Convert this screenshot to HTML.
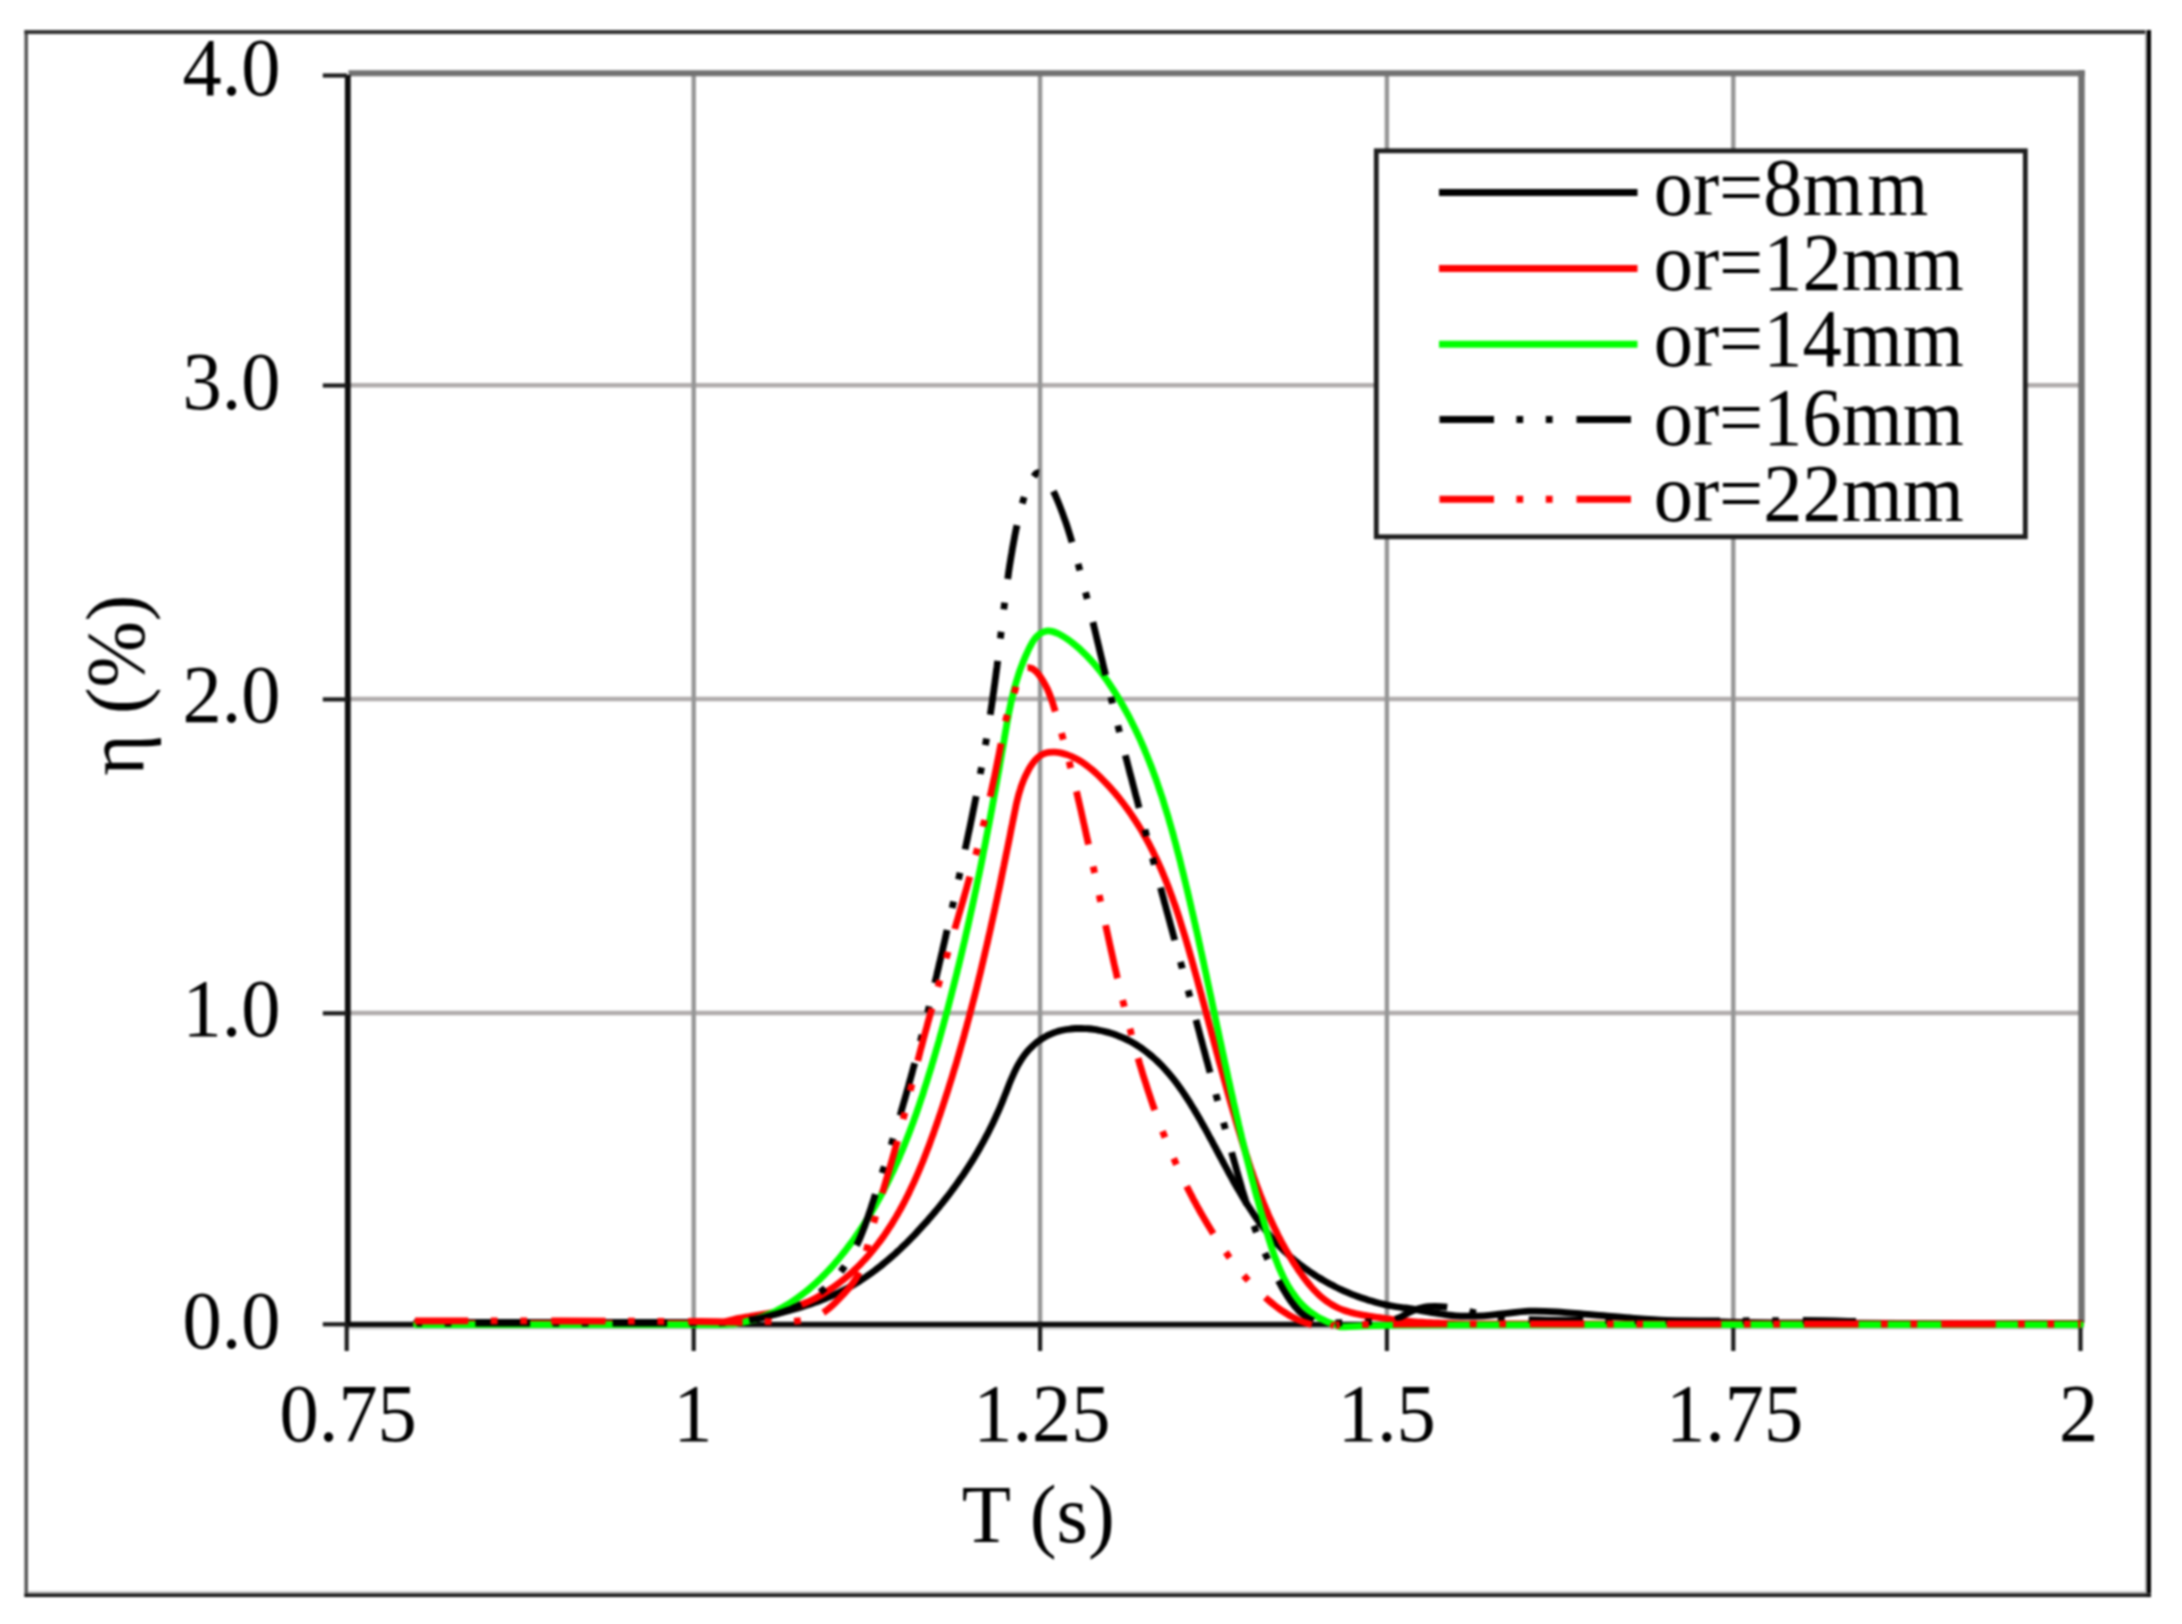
<!DOCTYPE html>
<html lang="en"><head><meta charset="utf-8"><title>Efficiency vs period</title>
<style>html,body{margin:0;padding:0;background:#fff}body{width:2182px;height:1624px;overflow:hidden}svg{display:block;filter:blur(0.9px)}text{font-family:'Liberation Serif','Times New Roman',serif;fill:#000}</style></head><body>
<svg xmlns="http://www.w3.org/2000/svg" width="2182" height="1624" viewBox="0 0 2182 1624">
<rect width="2182" height="1624" fill="#fff"/>
<g id="frame">
<rect x="24.45" y="30.05" width="3.5" height="1566.8" fill="#555"/>
<rect x="24.45" y="30.05" width="2126.55" height="4.0" fill="#333"/>
<rect x="2145.1" y="30.05" width="1.9" height="1566.8" fill="#a0a0a0"/>
<rect x="2147" y="30.05" width="4.0" height="1566.8" fill="#000"/>
<rect x="27.9" y="1590.9" width="2117.5" height="2.1" fill="#d0d0d0"/>
<rect x="24.45" y="1593" width="2126.55" height="1.8" fill="#474747"/>
<rect x="24.45" y="1594.7" width="2126.55" height="2.2" fill="#000"/>
</g>
<g id="grid" fill="none">
<line x1="347.5" x2="2082.5" y1="1013.0" y2="1013.0" stroke="#b0acac" stroke-width="4.4"/>
<line x1="347.5" x2="2082.5" y1="699.0" y2="699.0" stroke="#b0acac" stroke-width="4.4"/>
<line x1="347.5" x2="2082.5" y1="385.3" y2="385.3" stroke="#b0acac" stroke-width="4.4"/>
<line x1="693.7" x2="693.7" y1="73.0" y2="1324.4" stroke="#969696" stroke-width="4.4"/>
<line x1="1040.1" x2="1040.1" y1="73.0" y2="1324.4" stroke="#969696" stroke-width="4.4"/>
<line x1="1386.9" x2="1386.9" y1="73.0" y2="1324.4" stroke="#969696" stroke-width="4.4"/>
<line x1="1733.3" x2="1733.3" y1="73.0" y2="1324.4" stroke="#969696" stroke-width="4.4"/>
<line x1="347.5" x2="2083.5" y1="1327.4" y2="1327.4" stroke="#c4c4c4" stroke-width="4"/>
<line x1="348.5" x2="2084.7" y1="73.25" y2="73.25" stroke="#727272" stroke-width="6.2"/>
<line x1="2081.5" x2="2081.5" y1="70.2" y2="1322.4" stroke="#707070" stroke-width="6.4"/>
</g>
<g id="axes" stroke="#0c0c0c" fill="none">
<line x1="347.8" x2="347.8" y1="75" y2="1327.1" stroke-width="5.8"/>
<line x1="345" x2="2083.5" y1="1324.4" y2="1324.4" stroke-width="5.4"/>
<line x1="322.8" x2="347" y1="1324.3" y2="1324.3" stroke-width="4.2" stroke="#1c1c1c"/>
<line x1="322.8" x2="347" y1="1013.3" y2="1013.3" stroke-width="4.2" stroke="#1c1c1c"/>
<line x1="322.8" x2="347" y1="699.4" y2="699.4" stroke-width="4.2" stroke="#1c1c1c"/>
<line x1="322.8" x2="347" y1="385.5" y2="385.5" stroke-width="4.2" stroke="#1c1c1c"/>
<line x1="322.8" x2="347" y1="75.5" y2="75.5" stroke-width="4.2" stroke="#1c1c1c"/>
<line x1="346.7" x2="346.7" y1="1324.4" y2="1351" stroke-width="4.2" stroke="#1c1c1c"/>
<line x1="693.7" x2="693.7" y1="1324.4" y2="1351" stroke-width="4.2" stroke="#1c1c1c"/>
<line x1="1040.1" x2="1040.1" y1="1324.4" y2="1351" stroke-width="4.2" stroke="#1c1c1c"/>
<line x1="1386.9" x2="1386.9" y1="1324.4" y2="1351" stroke-width="4.2" stroke="#1c1c1c"/>
<line x1="1733.3" x2="1733.3" y1="1324.4" y2="1351" stroke-width="4.2" stroke="#1c1c1c"/>
<line x1="2080.5" x2="2080.5" y1="1324.4" y2="1351" stroke-width="4.2" stroke="#1c1c1c"/>
</g>
<g id="series" fill="none" stroke-linejoin="round" stroke-width="6.8">
<path stroke="#000" stroke-linecap="round" d="M416.5 1322.5C440.4 1322.5 512.8 1322.5 560.0 1322.5C607.2 1322.5 670.8 1322.5 700.0 1322.5C729.2 1322.5 728.2 1322.5 735.0 1322.3C741.8 1322.1 739.0 1321.5 741.0 1321.2C743.0 1320.8 745.0 1320.4 746.9 1320.0C748.9 1319.6 750.9 1319.2 752.9 1318.8C754.9 1318.4 756.9 1318.0 758.9 1317.6C760.8 1317.2 762.8 1316.7 764.8 1316.3C766.8 1315.9 768.8 1315.4 770.7 1315.0C772.7 1314.5 774.7 1314.1 776.6 1313.6C778.6 1313.2 780.6 1312.7 782.5 1312.2C784.5 1311.7 786.4 1311.2 788.4 1310.7C790.3 1310.2 792.2 1309.6 794.2 1309.1C796.1 1308.5 798.0 1308.0 800.0 1307.4C801.9 1306.8 803.8 1306.2 805.7 1305.6C807.6 1305.0 809.5 1304.4 811.4 1303.7C813.3 1303.1 815.1 1302.4 817.0 1301.7C818.9 1301.0 820.8 1300.3 822.6 1299.6C824.5 1298.9 826.3 1298.1 828.1 1297.4C830.0 1296.6 831.8 1295.8 833.6 1295.0C835.4 1294.2 837.2 1293.3 839.0 1292.5C840.8 1291.6 842.6 1290.7 844.4 1289.8C846.1 1288.9 847.9 1287.9 849.6 1287.0C851.4 1286.0 853.1 1285.0 854.8 1284.0C856.6 1282.9 858.3 1281.9 860.0 1280.8C861.6 1279.7 863.3 1278.6 865.0 1277.5C866.7 1276.4 868.3 1275.2 870.0 1274.0C871.6 1272.9 873.2 1271.7 874.9 1270.5C876.5 1269.2 878.1 1268.0 879.7 1266.8C881.3 1265.5 882.9 1264.2 884.4 1262.9C886.0 1261.6 887.6 1260.3 889.1 1259.0C890.7 1257.7 892.2 1256.3 893.7 1255.0C895.2 1253.6 896.8 1252.2 898.3 1250.8C899.8 1249.5 901.2 1248.0 902.7 1246.6C904.2 1245.2 905.6 1243.8 907.1 1242.4C908.6 1240.9 910.0 1239.5 911.4 1238.0C912.8 1236.5 914.3 1235.1 915.7 1233.6C917.1 1232.1 918.5 1230.6 919.8 1229.1C921.2 1227.6 922.6 1226.1 923.9 1224.6C925.3 1223.1 926.6 1221.6 928.0 1220.1C929.3 1218.6 930.6 1217.0 931.9 1215.5C933.3 1214.0 934.6 1212.5 935.8 1210.9C937.1 1209.4 938.4 1207.8 939.7 1206.3C940.9 1204.7 942.2 1203.2 943.4 1201.6C944.7 1200.1 945.9 1198.5 947.1 1196.9C948.3 1195.3 949.5 1193.8 950.7 1192.2C951.9 1190.6 953.1 1189.0 954.3 1187.4C955.4 1185.8 956.6 1184.2 957.7 1182.6C958.9 1181.0 960.0 1179.4 961.1 1177.7C962.3 1176.1 963.4 1174.5 964.5 1172.8C965.6 1171.2 966.7 1169.5 967.7 1167.9C968.8 1166.2 969.9 1164.5 970.9 1162.9C972.0 1161.2 973.0 1159.5 974.1 1157.8C975.1 1156.1 976.1 1154.4 977.1 1152.7C978.1 1151.0 979.1 1149.3 980.1 1147.5C981.1 1145.8 982.0 1144.0 983.0 1142.3C984.0 1140.5 984.9 1138.8 985.8 1137.0C986.8 1135.2 987.7 1133.5 988.6 1131.7C989.5 1129.9 990.4 1128.1 991.3 1126.3C992.2 1124.5 993.1 1122.6 993.9 1120.8C994.8 1119.0 995.6 1117.1 996.5 1115.3C997.3 1113.4 998.1 1111.5 999.0 1109.7C999.8 1107.8 1000.6 1105.9 1001.4 1104.0C1002.2 1102.1 1002.9 1100.2 1003.7 1098.2C1004.5 1096.3 1005.2 1094.4 1006.0 1092.4C1006.8 1090.5 1007.5 1088.5 1008.3 1086.6C1009.0 1084.7 1009.8 1082.7 1010.6 1080.8C1011.4 1078.9 1012.2 1077.0 1013.1 1075.1C1013.9 1073.3 1014.8 1071.4 1015.7 1069.6C1016.6 1067.8 1017.5 1066.0 1018.5 1064.2C1019.5 1062.5 1020.5 1060.8 1021.6 1059.1C1022.7 1057.5 1023.8 1055.9 1025.0 1054.3C1026.2 1052.8 1027.5 1051.3 1028.8 1049.8C1030.1 1048.4 1031.5 1047.0 1032.9 1045.7C1034.3 1044.4 1035.8 1043.1 1037.3 1041.9C1038.9 1040.8 1040.4 1039.7 1042.1 1038.6C1043.7 1037.6 1045.4 1036.6 1047.1 1035.7C1048.8 1034.9 1050.5 1034.1 1052.3 1033.4C1054.1 1032.6 1056.0 1032.0 1057.8 1031.4C1059.7 1030.9 1061.6 1030.4 1063.6 1030.0C1065.5 1029.6 1067.5 1029.3 1069.4 1029.1C1071.4 1028.8 1073.4 1028.6 1075.4 1028.5C1077.5 1028.4 1079.5 1028.4 1081.5 1028.4C1083.6 1028.5 1085.6 1028.6 1087.7 1028.7C1089.7 1028.9 1091.8 1029.1 1093.8 1029.4C1095.9 1029.7 1097.9 1030.1 1100.0 1030.5C1102.0 1030.9 1104.0 1031.4 1106.0 1031.9C1108.1 1032.4 1110.0 1033.0 1112.0 1033.6C1114.0 1034.2 1115.9 1034.9 1117.8 1035.7C1119.8 1036.4 1121.6 1037.2 1123.5 1038.0C1125.3 1038.8 1127.1 1039.7 1128.9 1040.6C1130.7 1041.6 1132.4 1042.5 1134.2 1043.5C1135.9 1044.5 1137.6 1045.6 1139.2 1046.7C1140.9 1047.8 1142.5 1048.9 1144.1 1050.1C1145.6 1051.2 1147.2 1052.4 1148.7 1053.7C1150.3 1054.9 1151.8 1056.2 1153.2 1057.5C1154.7 1058.8 1156.2 1060.1 1157.6 1061.5C1159.0 1062.9 1160.4 1064.3 1161.8 1065.7C1163.2 1067.1 1164.5 1068.6 1165.8 1070.1C1167.2 1071.5 1168.5 1073.0 1169.8 1074.6C1171.0 1076.1 1172.3 1077.7 1173.5 1079.2C1174.8 1080.8 1176.0 1082.4 1177.2 1084.0C1178.4 1085.7 1179.6 1087.3 1180.8 1089.0C1181.9 1090.6 1183.1 1092.3 1184.2 1094.0C1185.4 1095.7 1186.5 1097.4 1187.6 1099.1C1188.7 1100.8 1189.8 1102.5 1190.9 1104.3C1192.0 1106.0 1193.0 1107.8 1194.1 1109.5C1195.1 1111.3 1196.2 1113.0 1197.2 1114.8C1198.3 1116.6 1199.3 1118.4 1200.3 1120.1C1201.3 1121.9 1202.3 1123.7 1203.3 1125.5C1204.3 1127.3 1205.3 1129.1 1206.3 1130.9C1207.3 1132.7 1208.3 1134.5 1209.2 1136.3C1210.2 1138.1 1211.2 1139.9 1212.2 1141.7C1213.1 1143.5 1214.1 1145.3 1215.1 1147.1C1216.0 1148.9 1217.0 1150.7 1217.9 1152.5C1218.9 1154.3 1219.9 1156.1 1220.8 1157.9C1221.8 1159.7 1222.7 1161.5 1223.7 1163.3C1224.7 1165.1 1225.6 1166.9 1226.6 1168.7C1227.6 1170.5 1228.5 1172.3 1229.5 1174.1C1230.5 1175.8 1231.5 1177.6 1232.5 1179.4C1233.4 1181.2 1234.4 1182.9 1235.4 1184.7C1236.4 1186.4 1237.4 1188.2 1238.4 1189.9C1239.5 1191.7 1240.5 1193.4 1241.5 1195.1C1242.5 1196.8 1243.6 1198.6 1244.6 1200.3C1245.7 1202.0 1246.8 1203.7 1247.8 1205.4C1248.9 1207.0 1250.0 1208.7 1251.1 1210.4C1252.2 1212.0 1253.3 1213.7 1254.4 1215.3C1255.6 1217.0 1256.7 1218.6 1257.9 1220.2C1259.0 1221.8 1260.2 1223.4 1261.4 1225.0C1262.6 1226.6 1263.8 1228.2 1265.0 1229.7C1266.3 1231.3 1267.5 1232.8 1268.8 1234.3C1270.0 1235.9 1271.3 1237.4 1272.6 1238.8C1274.0 1240.3 1275.3 1241.8 1276.6 1243.3C1278.0 1244.7 1279.4 1246.1 1280.8 1247.6C1282.2 1249.0 1283.6 1250.4 1285.0 1251.8C1286.5 1253.1 1288.0 1254.5 1289.5 1255.8C1290.9 1257.2 1292.5 1258.5 1294.0 1259.8C1295.5 1261.1 1297.1 1262.3 1298.7 1263.6C1300.3 1264.8 1301.9 1266.1 1303.5 1267.3C1305.1 1268.5 1306.8 1269.6 1308.4 1270.8C1310.1 1272.0 1311.8 1273.1 1313.5 1274.2C1315.2 1275.3 1316.9 1276.4 1318.6 1277.5C1320.4 1278.6 1322.1 1279.6 1323.9 1280.6C1325.6 1281.7 1327.4 1282.7 1329.2 1283.6C1331.0 1284.6 1332.8 1285.5 1334.6 1286.5C1336.5 1287.4 1338.3 1288.3 1340.1 1289.2C1342.0 1290.0 1343.9 1290.9 1345.7 1291.7C1347.6 1292.5 1349.5 1293.3 1351.4 1294.1C1353.3 1294.8 1355.2 1295.6 1357.1 1296.3C1359.0 1297.0 1360.9 1297.7 1362.8 1298.3C1364.8 1299.0 1366.7 1299.6 1368.6 1300.2C1370.6 1300.8 1372.5 1301.4 1374.5 1301.9C1376.4 1302.5 1378.4 1303.0 1380.3 1303.5C1382.3 1304.0 1384.3 1304.4 1386.2 1304.9C1388.2 1305.3 1390.2 1305.7 1392.2 1306.0C1394.1 1306.4 1396.1 1306.7 1398.1 1307.0C1400.1 1307.4 1402.1 1307.6 1404.1 1307.9C1406.0 1308.1 1406.0 1307.8 1410.0 1308.5C1414.0 1309.2 1420.7 1310.6 1428.3 1311.8C1435.9 1313.0 1446.6 1315.1 1455.8 1315.8C1465.0 1316.5 1475.6 1316.1 1483.3 1315.8C1491.0 1315.5 1494.1 1314.8 1501.7 1314.0C1509.3 1313.2 1519.9 1311.6 1529.1 1311.2C1538.2 1310.8 1545.9 1311.2 1556.6 1311.8C1567.3 1312.4 1581.1 1313.9 1593.3 1314.9C1605.5 1315.9 1617.8 1317.1 1630.0 1318.0C1642.2 1318.9 1654.9 1319.9 1666.6 1320.4C1678.3 1321.0 1687.8 1321.0 1700.0 1321.3C1712.2 1321.6 1723.3 1322.2 1740.0 1322.5C1756.7 1322.8 1773.3 1322.8 1800.0 1323.0C1826.7 1323.2 1853.2 1323.4 1900.0 1323.5C1946.8 1323.6 2050.4 1323.5 2080.5 1323.5"/>
<path stroke="#f00" stroke-linecap="round" d="M416.5 1323.5C440.4 1323.5 514.4 1323.5 560.0 1323.5C605.6 1323.5 663.3 1323.5 690.0 1323.5C716.7 1323.5 714.1 1323.5 720.0 1323.2C725.9 1322.9 723.8 1322.0 725.7 1321.5C727.6 1321.0 729.5 1320.5 731.5 1320.0C733.4 1319.6 735.4 1319.1 737.3 1318.7C739.3 1318.3 741.3 1318.0 743.3 1317.6C745.3 1317.2 747.3 1316.9 749.3 1316.6C751.3 1316.2 753.3 1315.9 755.3 1315.6C757.3 1315.3 759.3 1314.9 761.3 1314.6C763.3 1314.3 765.3 1313.9 767.3 1313.6C769.3 1313.2 771.3 1312.9 773.3 1312.5C775.3 1312.1 777.3 1311.7 779.3 1311.3C781.3 1310.8 783.2 1310.4 785.2 1309.9C787.2 1309.4 789.1 1308.8 791.0 1308.3C793.0 1307.7 794.9 1307.0 796.8 1306.4C798.7 1305.7 800.5 1305.0 802.4 1304.2C804.3 1303.5 806.1 1302.7 807.9 1301.9C809.8 1301.0 811.6 1300.2 813.4 1299.3C815.2 1298.4 816.9 1297.4 818.7 1296.4C820.5 1295.5 822.2 1294.5 823.9 1293.4C825.6 1292.4 827.3 1291.3 829.0 1290.2C830.7 1289.1 832.3 1288.0 834.0 1286.8C835.6 1285.7 837.2 1284.5 838.8 1283.3C840.4 1282.1 842.0 1280.8 843.5 1279.6C845.1 1278.3 846.6 1277.0 848.1 1275.7C849.6 1274.4 851.1 1273.1 852.6 1271.7C854.1 1270.4 855.5 1269.0 856.9 1267.7C858.3 1266.3 859.7 1264.9 861.1 1263.5C862.5 1262.0 863.8 1260.6 865.2 1259.1C866.5 1257.7 867.8 1256.2 869.1 1254.7C870.4 1253.2 871.7 1251.7 872.9 1250.2C874.2 1248.7 875.4 1247.1 876.6 1245.6C877.8 1244.0 879.0 1242.5 880.2 1240.9C881.4 1239.3 882.5 1237.7 883.7 1236.1C884.8 1234.5 885.9 1232.8 887.0 1231.2C888.1 1229.6 889.2 1227.9 890.3 1226.2C891.4 1224.6 892.4 1222.9 893.4 1221.2C894.5 1219.5 895.5 1217.8 896.5 1216.1C897.5 1214.4 898.5 1212.6 899.5 1210.9C900.5 1209.1 901.4 1207.4 902.4 1205.6C903.3 1203.9 904.2 1202.1 905.2 1200.3C906.1 1198.5 907.0 1196.8 907.9 1195.0C908.8 1193.2 909.6 1191.3 910.5 1189.5C911.4 1187.7 912.2 1185.9 913.1 1184.1C913.9 1182.2 914.8 1180.4 915.6 1178.5C916.4 1176.7 917.2 1174.8 918.0 1173.0C918.8 1171.1 919.6 1169.2 920.4 1167.4C921.1 1165.5 921.9 1163.6 922.7 1161.7C923.4 1159.9 924.2 1158.0 924.9 1156.1C925.7 1154.2 926.4 1152.3 927.1 1150.4C927.9 1148.5 928.6 1146.6 929.3 1144.7C930.0 1142.8 930.7 1140.9 931.4 1138.9C932.1 1137.0 932.8 1135.1 933.5 1133.2C934.2 1131.3 934.8 1129.4 935.5 1127.4C936.2 1125.5 936.8 1123.6 937.5 1121.7C938.2 1119.8 938.8 1117.8 939.5 1115.9C940.1 1114.0 940.8 1112.1 941.4 1110.2C942.1 1108.2 942.7 1106.3 943.3 1104.4C944.0 1102.5 944.6 1100.5 945.2 1098.6C945.8 1096.7 946.5 1094.8 947.1 1092.8C947.7 1090.9 948.3 1089.0 948.9 1087.1C949.5 1085.1 950.1 1083.2 950.7 1081.3C951.3 1079.4 951.9 1077.4 952.5 1075.5C953.1 1073.6 953.7 1071.6 954.2 1069.7C954.8 1067.8 955.4 1065.9 956.0 1063.9C956.6 1062.0 957.1 1060.1 957.7 1058.1C958.3 1056.2 958.8 1054.3 959.4 1052.3C959.9 1050.4 960.5 1048.5 961.0 1046.5C961.6 1044.6 962.1 1042.7 962.7 1040.7C963.2 1038.8 963.7 1036.9 964.3 1034.9C964.8 1033.0 965.3 1031.1 965.9 1029.1C966.4 1027.2 966.9 1025.3 967.4 1023.3C968.0 1021.4 968.5 1019.5 969.0 1017.5C969.5 1015.6 970.0 1013.6 970.5 1011.7C971.0 1009.8 971.5 1007.8 972.0 1005.9C972.5 1004.0 973.0 1002.0 973.5 1000.1C974.0 998.1 974.5 996.2 975.0 994.3C975.5 992.3 976.0 990.4 976.5 988.4C977.0 986.5 977.4 984.5 977.9 982.6C978.4 980.7 978.9 978.7 979.3 976.8C979.8 974.8 980.3 972.9 980.8 970.9C981.2 969.0 981.7 967.1 982.1 965.1C982.6 963.2 983.1 961.2 983.5 959.3C984.0 957.3 984.4 955.4 984.9 953.4C985.3 951.5 985.8 949.6 986.2 947.6C986.7 945.7 987.1 943.7 987.6 941.8C988.0 939.8 988.4 937.9 988.9 935.9C989.3 934.0 989.8 932.0 990.2 930.1C990.6 928.1 991.1 926.2 991.5 924.2C991.9 922.3 992.4 920.3 992.8 918.4C993.2 916.4 993.6 914.5 994.1 912.5C994.5 910.6 994.9 908.6 995.3 906.6C995.7 904.7 996.2 902.7 996.6 900.8C997.0 898.8 997.4 896.9 997.8 894.9C998.2 893.0 998.6 891.0 999.1 889.1C999.5 887.1 999.9 885.1 1000.3 883.2C1000.7 881.2 1001.1 879.3 1001.5 877.3C1001.9 875.4 1002.3 873.4 1002.7 871.4C1003.1 869.5 1003.5 867.5 1003.9 865.6C1004.3 863.6 1004.7 861.6 1005.1 859.7C1005.5 857.7 1005.9 855.8 1006.3 853.8C1006.7 851.8 1007.1 849.9 1007.5 847.9C1007.9 846.0 1008.3 844.0 1008.7 842.0C1009.1 840.1 1009.5 838.1 1009.9 836.1C1010.3 834.2 1010.6 832.2 1011.0 830.3C1011.4 828.3 1011.8 826.3 1012.2 824.4C1012.6 822.4 1013.0 820.4 1013.4 818.5C1013.8 816.5 1014.2 814.5 1014.6 812.6C1015.0 810.6 1015.4 808.6 1015.8 806.7C1016.2 804.7 1016.6 802.7 1017.1 800.8C1017.6 798.8 1018.1 796.9 1018.6 794.9C1019.2 793.0 1019.7 791.0 1020.4 789.1C1021.0 787.1 1021.6 785.2 1022.4 783.3C1023.1 781.3 1023.9 779.4 1024.7 777.5C1025.6 775.6 1026.5 773.7 1027.5 771.8C1028.5 769.9 1029.5 768.0 1030.7 766.2C1031.8 764.4 1033.1 762.7 1034.4 761.1C1035.7 759.6 1037.1 758.1 1038.6 756.9C1040.1 755.7 1041.7 754.6 1043.5 753.9C1045.2 753.1 1047.0 752.7 1048.9 752.4C1050.7 752.1 1052.7 752.0 1054.6 752.1C1056.6 752.2 1058.6 752.5 1060.5 752.9C1062.5 753.3 1064.4 753.8 1066.3 754.4C1068.2 755.1 1070.0 755.8 1071.9 756.6C1073.7 757.4 1075.5 758.3 1077.2 759.3C1079.0 760.2 1080.7 761.3 1082.4 762.4C1084.1 763.5 1085.8 764.7 1087.4 766.0C1089.1 767.2 1090.7 768.5 1092.3 769.9C1093.8 771.2 1095.4 772.6 1096.9 774.0C1098.5 775.4 1100.0 776.9 1101.4 778.4C1102.9 779.8 1104.4 781.3 1105.8 782.9C1107.2 784.4 1108.6 785.9 1110.0 787.4C1111.4 788.9 1112.7 790.5 1114.1 792.0C1115.4 793.6 1116.7 795.2 1118.0 796.7C1119.3 798.3 1120.5 799.9 1121.8 801.5C1123.0 803.1 1124.2 804.7 1125.4 806.3C1126.7 807.9 1127.8 809.6 1129.0 811.2C1130.1 812.8 1131.3 814.5 1132.4 816.2C1133.5 817.8 1134.6 819.5 1135.7 821.2C1136.8 822.8 1137.9 824.5 1138.9 826.2C1139.9 827.9 1141.0 829.6 1142.0 831.3C1143.0 833.1 1144.0 834.8 1144.9 836.5C1145.9 838.2 1146.9 840.0 1147.8 841.7C1148.8 843.5 1149.7 845.2 1150.6 847.0C1151.5 848.8 1152.4 850.5 1153.3 852.3C1154.1 854.1 1155.0 855.9 1155.9 857.7C1156.7 859.5 1157.5 861.3 1158.4 863.1C1159.2 864.9 1160.0 866.7 1160.8 868.5C1161.6 870.3 1162.4 872.2 1163.1 874.0C1163.9 875.8 1164.6 877.7 1165.4 879.5C1166.1 881.3 1166.9 883.2 1167.6 885.0C1168.3 886.9 1169.0 888.8 1169.7 890.6C1170.4 892.5 1171.1 894.4 1171.8 896.2C1172.5 898.1 1173.1 900.0 1173.8 901.9C1174.5 903.8 1175.1 905.6 1175.8 907.5C1176.4 909.4 1177.0 911.3 1177.7 913.2C1178.3 915.1 1178.9 917.0 1179.5 918.9C1180.1 920.8 1180.7 922.7 1181.3 924.7C1181.9 926.6 1182.5 928.5 1183.1 930.4C1183.7 932.3 1184.3 934.2 1184.9 936.2C1185.4 938.1 1186.0 940.0 1186.6 941.9C1187.1 943.9 1187.7 945.8 1188.3 947.7C1188.8 949.7 1189.4 951.6 1189.9 953.5C1190.5 955.5 1191.0 957.4 1191.6 959.3C1192.1 961.3 1192.6 963.2 1193.2 965.1C1193.7 967.1 1194.3 969.0 1194.8 971.0C1195.3 972.9 1195.9 974.8 1196.4 976.8C1196.9 978.7 1197.5 980.6 1198.0 982.6C1198.5 984.5 1199.1 986.5 1199.6 988.4C1200.1 990.4 1200.6 992.3 1201.2 994.2C1201.7 996.2 1202.2 998.1 1202.7 1000.1C1203.3 1002.0 1203.8 1004.0 1204.3 1005.9C1204.8 1007.8 1205.4 1009.8 1205.9 1011.7C1206.4 1013.7 1206.9 1015.6 1207.4 1017.6C1208.0 1019.5 1208.5 1021.4 1209.0 1023.4C1209.5 1025.3 1210.1 1027.3 1210.6 1029.2C1211.1 1031.2 1211.6 1033.1 1212.1 1035.1C1212.7 1037.0 1213.2 1038.9 1213.7 1040.9C1214.2 1042.8 1214.7 1044.8 1215.3 1046.7C1215.8 1048.7 1216.3 1050.6 1216.8 1052.6C1217.4 1054.5 1217.9 1056.4 1218.4 1058.4C1218.9 1060.3 1219.5 1062.3 1220.0 1064.2C1220.5 1066.2 1221.1 1068.1 1221.6 1070.1C1222.1 1072.0 1222.7 1073.9 1223.2 1075.9C1223.7 1077.8 1224.3 1079.8 1224.8 1081.7C1225.3 1083.6 1225.9 1085.6 1226.4 1087.5C1227.0 1089.5 1227.5 1091.4 1228.0 1093.4C1228.6 1095.3 1229.1 1097.2 1229.7 1099.2C1230.2 1101.1 1230.8 1103.0 1231.3 1105.0C1231.9 1106.9 1232.5 1108.9 1233.0 1110.8C1233.6 1112.7 1234.1 1114.7 1234.7 1116.6C1235.3 1118.5 1235.8 1120.5 1236.4 1122.4C1237.0 1124.3 1237.5 1126.3 1238.1 1128.2C1238.7 1130.1 1239.3 1132.1 1239.9 1134.0C1240.5 1135.9 1241.0 1137.8 1241.6 1139.8C1242.2 1141.7 1242.8 1143.6 1243.4 1145.6C1244.0 1147.5 1244.6 1149.4 1245.2 1151.3C1245.8 1153.2 1246.4 1155.2 1247.1 1157.1C1247.7 1159.0 1248.3 1160.9 1248.9 1162.8C1249.6 1164.8 1250.2 1166.7 1250.8 1168.6C1251.5 1170.5 1252.1 1172.4 1252.8 1174.3C1253.4 1176.2 1254.1 1178.1 1254.8 1180.0C1255.5 1181.9 1256.1 1183.8 1256.8 1185.7C1257.5 1187.6 1258.2 1189.4 1258.9 1191.3C1259.6 1193.2 1260.4 1195.1 1261.1 1197.0C1261.8 1198.8 1262.6 1200.7 1263.3 1202.6C1264.1 1204.4 1264.8 1206.3 1265.6 1208.1C1266.4 1210.0 1267.1 1211.8 1267.9 1213.7C1268.7 1215.5 1269.5 1217.3 1270.4 1219.2C1271.2 1221.0 1272.0 1222.8 1272.9 1224.6C1273.7 1226.4 1274.6 1228.2 1275.5 1230.0C1276.3 1231.8 1277.2 1233.6 1278.1 1235.4C1279.0 1237.2 1280.0 1239.0 1280.9 1240.8C1281.8 1242.5 1282.8 1244.3 1283.8 1246.0C1284.7 1247.8 1285.7 1249.5 1286.7 1251.3C1287.7 1253.0 1288.7 1254.7 1289.8 1256.5C1290.8 1258.2 1291.9 1259.9 1292.9 1261.6C1294.0 1263.3 1295.1 1265.0 1296.2 1266.7C1297.3 1268.4 1298.5 1270.0 1299.6 1271.7C1300.8 1273.3 1301.9 1275.0 1303.1 1276.6C1304.3 1278.3 1305.5 1279.9 1306.8 1281.4C1308.0 1283.0 1309.3 1284.6 1310.6 1286.1C1311.9 1287.6 1313.2 1289.1 1314.6 1290.5C1316.0 1292.0 1317.4 1293.4 1318.8 1294.7C1320.3 1296.1 1321.8 1297.4 1323.3 1298.6C1324.8 1299.8 1326.4 1301.0 1328.0 1302.1C1329.6 1303.3 1331.3 1304.3 1333.0 1305.3C1334.7 1306.3 1336.4 1307.2 1338.2 1308.0C1340.0 1308.8 1341.9 1309.5 1343.8 1310.2C1345.7 1310.9 1347.6 1311.5 1349.6 1312.1C1351.5 1312.6 1353.5 1313.1 1355.6 1313.6C1357.6 1314.0 1359.6 1314.4 1361.6 1314.8C1363.7 1315.2 1365.7 1315.5 1367.8 1315.9C1369.8 1316.2 1371.9 1316.5 1373.9 1316.8C1375.9 1317.1 1378.0 1317.4 1380.0 1317.7C1382.0 1318.0 1384.0 1318.2 1386.0 1318.5C1388.0 1318.8 1389.9 1319.0 1391.9 1319.3C1393.9 1319.5 1395.8 1319.8 1397.8 1320.0C1399.8 1320.3 1401.7 1320.5 1403.7 1320.7C1405.6 1320.9 1407.6 1321.1 1409.6 1321.3C1411.5 1321.5 1413.5 1321.6 1415.5 1321.8C1417.4 1322.0 1419.4 1322.1 1421.4 1322.2C1423.4 1322.4 1425.4 1322.5 1427.4 1322.6C1429.4 1322.7 1431.4 1322.8 1433.4 1322.9C1435.5 1322.9 1437.5 1323.0 1439.6 1323.0C1441.6 1323.1 1435.7 1322.9 1445.8 1323.1C1455.9 1323.3 1457.6 1323.9 1500.0 1324.0C1542.4 1324.1 1603.2 1324.0 1700.0 1324.0C1796.8 1324.0 2017.1 1324.0 2080.5 1324.0"/>
<path stroke="#0f0" stroke-linecap="round" d="M416.5 1324.6C440.4 1324.6 512.8 1324.6 560.0 1324.6C607.2 1324.6 671.7 1324.7 700.0 1324.6C728.3 1324.5 724.0 1324.4 730.0 1324.2C736.0 1324.0 734.1 1323.8 736.2 1323.5C738.2 1323.2 740.2 1322.8 742.2 1322.5C744.2 1322.1 746.2 1321.6 748.1 1321.2C750.1 1320.7 752.0 1320.2 753.9 1319.6C755.8 1319.1 757.7 1318.5 759.6 1317.8C761.5 1317.2 763.3 1316.5 765.2 1315.8C767.0 1315.0 768.8 1314.3 770.6 1313.5C772.4 1312.7 774.2 1311.8 776.0 1311.0C777.8 1310.1 779.5 1309.2 781.2 1308.2C783.0 1307.3 784.7 1306.3 786.4 1305.3C788.1 1304.3 789.7 1303.2 791.4 1302.1C793.0 1301.1 794.7 1300.0 796.3 1298.8C797.9 1297.7 799.5 1296.5 801.1 1295.3C802.7 1294.1 804.3 1292.9 805.8 1291.7C807.4 1290.4 808.9 1289.1 810.4 1287.8C811.9 1286.5 813.4 1285.2 814.9 1283.9C816.4 1282.5 817.9 1281.1 819.3 1279.8C820.8 1278.4 822.2 1276.9 823.6 1275.5C825.0 1274.1 826.4 1272.6 827.8 1271.2C829.2 1269.7 830.6 1268.2 831.9 1266.7C833.3 1265.2 834.6 1263.7 835.9 1262.1C837.3 1260.6 838.6 1259.0 839.8 1257.5C841.1 1255.9 842.4 1254.3 843.7 1252.7C844.9 1251.2 846.2 1249.6 847.4 1247.9C848.6 1246.3 849.8 1244.7 851.0 1243.1C852.2 1241.5 853.4 1239.8 854.6 1238.2C855.7 1236.5 856.9 1234.9 858.0 1233.2C859.2 1231.6 860.3 1229.9 861.4 1228.2C862.5 1226.5 863.6 1224.9 864.7 1223.2C865.7 1221.5 866.8 1219.8 867.9 1218.1C868.9 1216.4 870.0 1214.7 871.0 1213.0C872.0 1211.3 873.0 1209.5 874.0 1207.8C875.0 1206.1 876.0 1204.3 877.0 1202.6C878.0 1200.9 878.9 1199.1 879.9 1197.4C880.8 1195.6 881.8 1193.9 882.7 1192.1C883.6 1190.3 884.5 1188.6 885.4 1186.8C886.3 1185.0 887.2 1183.2 888.1 1181.4C889.0 1179.7 889.9 1177.9 890.7 1176.1C891.6 1174.3 892.4 1172.5 893.3 1170.7C894.1 1168.9 894.9 1167.0 895.7 1165.2C896.6 1163.4 897.4 1161.6 898.2 1159.8C899.0 1157.9 899.8 1156.1 900.5 1154.3C901.3 1152.4 902.1 1150.6 902.9 1148.8C903.6 1146.9 904.4 1145.1 905.1 1143.2C905.9 1141.4 906.6 1139.5 907.3 1137.6C908.1 1135.8 908.8 1133.9 909.5 1132.1C910.2 1130.2 910.9 1128.3 911.6 1126.4C912.3 1124.6 913.0 1122.7 913.7 1120.8C914.3 1118.9 915.0 1117.0 915.7 1115.2C916.4 1113.3 917.0 1111.4 917.7 1109.5C918.3 1107.6 919.0 1105.7 919.6 1103.8C920.3 1101.9 920.9 1100.0 921.5 1098.1C922.2 1096.2 922.8 1094.3 923.4 1092.4C924.0 1090.4 924.6 1088.5 925.2 1086.6C925.8 1084.7 926.4 1082.8 927.0 1080.9C927.6 1079.0 928.2 1077.0 928.8 1075.1C929.4 1073.2 930.0 1071.3 930.6 1069.3C931.2 1067.4 931.7 1065.5 932.3 1063.6C932.9 1061.6 933.5 1059.7 934.0 1057.8C934.6 1055.8 935.2 1053.9 935.7 1052.0C936.3 1050.0 936.8 1048.1 937.4 1046.2C938.0 1044.2 938.5 1042.3 939.1 1040.4C939.6 1038.4 940.1 1036.5 940.7 1034.5C941.2 1032.6 941.8 1030.6 942.3 1028.7C942.8 1026.8 943.4 1024.8 943.9 1022.9C944.4 1020.9 945.0 1019.0 945.5 1017.0C946.0 1015.1 946.5 1013.1 947.1 1011.2C947.6 1009.3 948.1 1007.3 948.6 1005.4C949.1 1003.4 949.6 1001.5 950.1 999.5C950.6 997.5 951.1 995.6 951.6 993.6C952.1 991.7 952.6 989.7 953.1 987.8C953.6 985.8 954.1 983.9 954.6 981.9C955.1 980.0 955.6 978.0 956.1 976.0C956.6 974.1 957.1 972.1 957.5 970.2C958.0 968.2 958.5 966.2 959.0 964.3C959.4 962.3 959.9 960.4 960.4 958.4C960.9 956.4 961.3 954.5 961.8 952.5C962.3 950.6 962.7 948.6 963.2 946.6C963.6 944.7 964.1 942.7 964.6 940.7C965.0 938.8 965.5 936.8 965.9 934.8C966.4 932.9 966.8 930.9 967.3 928.9C967.7 927.0 968.2 925.0 968.6 923.0C969.0 921.1 969.5 919.1 969.9 917.1C970.3 915.2 970.8 913.2 971.2 911.2C971.6 909.3 972.1 907.3 972.5 905.3C972.9 903.4 973.4 901.4 973.8 899.4C974.2 897.5 974.6 895.5 975.0 893.5C975.5 891.5 975.9 889.6 976.3 887.6C976.7 885.6 977.1 883.7 977.5 881.7C977.9 879.7 978.3 877.8 978.8 875.8C979.2 873.8 979.6 871.8 980.0 869.9C980.4 867.9 980.8 865.9 981.2 864.0C981.6 862.0 982.0 860.0 982.4 858.0C982.8 856.1 983.1 854.1 983.5 852.1C983.9 850.2 984.3 848.2 984.7 846.2C985.1 844.2 985.5 842.3 985.9 840.3C986.2 838.3 986.6 836.4 987.0 834.4C987.4 832.4 987.8 830.5 988.1 828.5C988.5 826.5 988.9 824.5 989.3 822.6C989.6 820.6 990.0 818.6 990.4 816.7C990.8 814.7 991.1 812.7 991.5 810.8C991.9 808.8 992.2 806.8 992.6 804.9C992.9 802.9 993.3 800.9 993.7 799.0C994.0 797.0 994.4 795.0 994.7 793.1C995.1 791.1 995.5 789.1 995.8 787.2C996.2 785.2 996.5 783.2 996.9 781.3C997.2 779.3 997.6 777.3 997.9 775.4C998.3 773.4 998.6 771.5 999.0 769.5C999.3 767.5 999.7 765.6 1000.0 763.6C1000.3 761.7 1000.7 759.7 1001.0 757.7C1001.4 755.8 1001.7 753.8 1002.0 751.9C1002.4 749.9 1002.7 747.9 1003.1 746.0C1003.4 744.0 1003.7 742.1 1004.1 740.1C1004.4 738.2 1004.7 736.2 1005.1 734.2C1005.4 732.3 1005.7 730.3 1006.1 728.4C1006.4 726.4 1006.7 724.5 1007.1 722.5C1007.4 720.6 1007.8 718.6 1008.2 716.7C1008.5 714.7 1008.9 712.8 1009.3 710.8C1009.7 708.9 1010.1 707.0 1010.5 705.0C1010.9 703.1 1011.3 701.1 1011.8 699.2C1012.2 697.2 1012.7 695.3 1013.2 693.4C1013.6 691.4 1014.1 689.5 1014.7 687.5C1015.2 685.6 1015.7 683.7 1016.3 681.7C1016.9 679.8 1017.5 677.9 1018.1 675.9C1018.7 674.0 1019.4 672.1 1020.0 670.1C1020.7 668.2 1021.4 666.3 1022.2 664.3C1022.9 662.4 1023.7 660.5 1024.5 658.6C1025.3 656.6 1026.2 654.7 1027.1 652.8C1027.9 650.9 1028.8 648.9 1029.8 647.0C1030.8 645.2 1031.8 643.3 1032.9 641.5C1034.1 639.8 1035.2 638.1 1036.6 636.7C1037.9 635.3 1039.4 634.0 1041.0 633.1C1042.6 632.1 1044.5 631.4 1046.3 631.1C1048.1 630.8 1050.0 630.9 1051.9 631.3C1053.8 631.7 1055.7 632.5 1057.5 633.3C1059.4 634.2 1061.3 635.3 1063.1 636.4C1064.9 637.4 1066.6 638.6 1068.3 639.8C1070.0 641.0 1071.6 642.2 1073.2 643.5C1074.8 644.7 1076.3 646.0 1077.9 647.4C1079.4 648.7 1080.9 650.1 1082.3 651.4C1083.8 652.8 1085.2 654.2 1086.6 655.6C1088.0 657.1 1089.4 658.5 1090.7 660.0C1092.0 661.5 1093.4 663.0 1094.7 664.5C1096.0 666.0 1097.2 667.5 1098.5 669.1C1099.7 670.6 1100.9 672.2 1102.1 673.8C1103.3 675.4 1104.5 677.0 1105.7 678.6C1106.8 680.2 1108.0 681.9 1109.1 683.5C1110.2 685.1 1111.3 686.8 1112.4 688.5C1113.5 690.1 1114.6 691.8 1115.6 693.5C1116.7 695.2 1117.7 696.9 1118.8 698.6C1119.8 700.3 1120.8 702.0 1121.8 703.8C1122.8 705.5 1123.8 707.2 1124.7 709.0C1125.7 710.7 1126.7 712.5 1127.6 714.2C1128.6 716.0 1129.5 717.7 1130.4 719.5C1131.3 721.3 1132.2 723.1 1133.1 724.9C1134.0 726.7 1134.9 728.4 1135.7 730.2C1136.6 732.1 1137.5 733.9 1138.3 735.7C1139.1 737.5 1140.0 739.3 1140.8 741.1C1141.6 743.0 1142.4 744.8 1143.2 746.7C1144.0 748.5 1144.8 750.3 1145.5 752.2C1146.3 754.1 1147.1 755.9 1147.8 757.8C1148.6 759.6 1149.3 761.5 1150.0 763.4C1150.8 765.3 1151.5 767.1 1152.2 769.0C1152.9 770.9 1153.6 772.8 1154.3 774.7C1155.0 776.6 1155.7 778.5 1156.4 780.4C1157.0 782.3 1157.7 784.2 1158.3 786.1C1159.0 788.0 1159.6 789.9 1160.3 791.9C1160.9 793.8 1161.6 795.7 1162.2 797.6C1162.8 799.6 1163.4 801.5 1164.0 803.4C1164.6 805.4 1165.2 807.3 1165.8 809.2C1166.4 811.2 1167.0 813.1 1167.6 815.1C1168.2 817.0 1168.7 818.9 1169.3 820.9C1169.9 822.8 1170.4 824.8 1171.0 826.7C1171.5 828.7 1172.1 830.6 1172.6 832.6C1173.2 834.6 1173.7 836.5 1174.2 838.5C1174.7 840.4 1175.3 842.4 1175.8 844.3C1176.3 846.3 1176.8 848.3 1177.3 850.2C1177.9 852.2 1178.4 854.2 1178.9 856.1C1179.4 858.1 1179.9 860.0 1180.4 862.0C1180.9 864.0 1181.3 865.9 1181.8 867.9C1182.3 869.9 1182.8 871.8 1183.3 873.8C1183.8 875.7 1184.2 877.7 1184.7 879.7C1185.2 881.6 1185.7 883.6 1186.1 885.5C1186.6 887.5 1187.1 889.5 1187.5 891.4C1188.0 893.4 1188.5 895.3 1188.9 897.3C1189.4 899.2 1189.8 901.2 1190.3 903.2C1190.7 905.1 1191.2 907.1 1191.6 909.0C1192.1 911.0 1192.5 912.9 1193.0 914.9C1193.4 916.8 1193.9 918.8 1194.3 920.7C1194.8 922.7 1195.2 924.6 1195.6 926.6C1196.1 928.5 1196.5 930.5 1197.0 932.4C1197.4 934.4 1197.8 936.3 1198.3 938.3C1198.7 940.2 1199.1 942.2 1199.5 944.1C1200.0 946.1 1200.4 948.0 1200.8 950.0C1201.3 951.9 1201.7 953.9 1202.1 955.8C1202.5 957.8 1202.9 959.7 1203.4 961.7C1203.8 963.6 1204.2 965.6 1204.6 967.5C1205.0 969.5 1205.5 971.4 1205.9 973.4C1206.3 975.3 1206.7 977.3 1207.1 979.2C1207.5 981.2 1208.0 983.1 1208.4 985.1C1208.8 987.0 1209.2 988.9 1209.6 990.9C1210.0 992.8 1210.4 994.8 1210.9 996.7C1211.3 998.7 1211.7 1000.6 1212.1 1002.6C1212.5 1004.5 1212.9 1006.5 1213.3 1008.4C1213.7 1010.4 1214.1 1012.3 1214.6 1014.2C1215.0 1016.2 1215.4 1018.1 1215.8 1020.1C1216.2 1022.0 1216.6 1024.0 1217.0 1025.9C1217.4 1027.9 1217.9 1029.8 1218.3 1031.8C1218.7 1033.7 1219.1 1035.7 1219.5 1037.6C1219.9 1039.6 1220.3 1041.5 1220.8 1043.4C1221.2 1045.4 1221.6 1047.3 1222.0 1049.3C1222.4 1051.2 1222.8 1053.2 1223.3 1055.1C1223.7 1057.1 1224.1 1059.0 1224.5 1061.0C1224.9 1062.9 1225.4 1064.9 1225.8 1066.8C1226.2 1068.8 1226.6 1070.7 1227.1 1072.7C1227.5 1074.6 1227.9 1076.6 1228.3 1078.5C1228.8 1080.5 1229.2 1082.4 1229.6 1084.4C1230.1 1086.3 1230.5 1088.3 1230.9 1090.3C1231.4 1092.2 1231.8 1094.2 1232.2 1096.1C1232.7 1098.1 1233.1 1100.0 1233.5 1102.0C1234.0 1103.9 1234.4 1105.9 1234.9 1107.8C1235.3 1109.8 1235.8 1111.8 1236.2 1113.7C1236.7 1115.7 1237.1 1117.6 1237.6 1119.6C1238.0 1121.5 1238.5 1123.5 1238.9 1125.5C1239.4 1127.4 1239.9 1129.4 1240.3 1131.3C1240.8 1133.3 1241.3 1135.3 1241.7 1137.2C1242.2 1139.2 1242.7 1141.2 1243.1 1143.1C1243.6 1145.1 1244.1 1147.1 1244.6 1149.0C1245.1 1151.0 1245.5 1152.9 1246.0 1154.9C1246.5 1156.9 1247.0 1158.8 1247.5 1160.8C1248.0 1162.8 1248.5 1164.8 1249.0 1166.7C1249.5 1168.7 1250.0 1170.7 1250.5 1172.6C1251.0 1174.6 1251.5 1176.6 1252.0 1178.6C1252.5 1180.5 1253.1 1182.5 1253.6 1184.5C1254.1 1186.5 1254.6 1188.4 1255.1 1190.4C1255.7 1192.4 1256.2 1194.4 1256.7 1196.4C1257.3 1198.3 1257.8 1200.3 1258.4 1202.3C1258.9 1204.3 1259.4 1206.3 1260.0 1208.2C1260.5 1210.2 1261.1 1212.2 1261.7 1214.2C1262.2 1216.2 1262.8 1218.2 1263.4 1220.2C1263.9 1222.2 1264.5 1224.1 1265.1 1226.1C1265.7 1228.1 1266.2 1230.1 1266.8 1232.1C1267.4 1234.1 1268.0 1236.1 1268.6 1238.1C1269.2 1240.1 1269.8 1242.0 1270.5 1244.0C1271.1 1246.0 1271.7 1247.9 1272.4 1249.9C1273.1 1251.8 1273.7 1253.8 1274.4 1255.7C1275.1 1257.6 1275.8 1259.5 1276.6 1261.4C1277.3 1263.3 1278.0 1265.2 1278.8 1267.0C1279.6 1268.9 1280.4 1270.7 1281.2 1272.5C1282.0 1274.3 1282.9 1276.1 1283.8 1277.9C1284.6 1279.6 1285.5 1281.3 1286.5 1283.0C1287.4 1284.7 1288.4 1286.4 1289.4 1288.0C1290.4 1289.7 1291.4 1291.3 1292.5 1292.8C1293.6 1294.4 1294.7 1295.9 1295.9 1297.4C1297.0 1298.9 1298.2 1300.3 1299.4 1301.7C1300.7 1303.1 1302.0 1304.5 1303.3 1305.8C1304.6 1307.1 1306.0 1308.4 1307.4 1309.6C1308.8 1310.8 1310.3 1312.0 1311.8 1313.1C1313.3 1314.2 1314.8 1315.3 1316.5 1316.3C1318.1 1317.3 1319.7 1318.2 1321.5 1319.1C1323.2 1320.0 1325.0 1320.9 1326.8 1321.6C1328.6 1322.4 1330.5 1323.1 1332.5 1323.8C1334.5 1324.4 1336.5 1325.0 1338.6 1325.5C1340.6 1326.0 1334.8 1326.9 1345.0 1326.8C1355.2 1326.8 1357.5 1325.6 1400.0 1325.2C1442.5 1324.8 1486.6 1324.7 1600.0 1324.6C1713.4 1324.5 2000.4 1324.6 2080.5 1324.6"/>
<path stroke="#000" stroke-dasharray="54.5 22.4 6.8 22.6 6.8 23.9" stroke-dashoffset="78" d="M416.5 1323.2C440.4 1323.2 512.8 1323.2 560.0 1323.2C607.2 1323.2 670.0 1323.2 700.0 1323.0C730.0 1322.8 732.4 1322.2 740.0 1321.8C747.6 1321.4 743.9 1321.1 745.8 1320.8C747.8 1320.5 749.7 1320.1 751.7 1319.7C753.7 1319.4 755.6 1319.0 757.6 1318.6C759.6 1318.2 761.6 1317.7 763.6 1317.3C765.5 1316.8 767.5 1316.4 769.5 1315.9C771.5 1315.3 773.4 1314.8 775.4 1314.3C777.3 1313.7 779.3 1313.1 781.2 1312.5C783.2 1311.9 785.1 1311.2 787.0 1310.5C788.9 1309.8 790.8 1309.1 792.7 1308.3C794.5 1307.5 796.4 1306.7 798.2 1305.8C800.0 1304.9 801.9 1304.0 803.6 1303.1C805.4 1302.1 807.2 1301.1 808.9 1300.0C810.6 1299.0 812.3 1297.9 814.0 1296.8C815.6 1295.6 817.2 1294.4 818.8 1293.2C820.4 1292.0 822.0 1290.7 823.6 1289.4C825.1 1288.2 826.6 1286.8 828.1 1285.4C829.5 1284.1 831.0 1282.7 832.4 1281.2C833.7 1279.8 835.1 1278.3 836.4 1276.8C837.7 1275.3 839.0 1273.8 840.3 1272.2C841.5 1270.6 842.7 1269.0 843.9 1267.4C845.0 1265.8 846.1 1264.2 847.2 1262.5C848.3 1260.8 849.3 1259.1 850.3 1257.4C851.3 1255.7 852.3 1253.9 853.2 1252.2C854.2 1250.4 855.1 1248.6 855.9 1246.8C856.8 1245.0 857.7 1243.2 858.5 1241.4C859.3 1239.6 860.1 1237.7 860.9 1235.8C861.6 1234.0 862.4 1232.1 863.1 1230.2C863.9 1228.3 864.6 1226.4 865.3 1224.5C866.0 1222.6 866.6 1220.7 867.3 1218.8C868.0 1216.9 868.6 1214.9 869.3 1213.0C869.9 1211.1 870.6 1209.1 871.2 1207.2C871.8 1205.3 872.4 1203.3 873.1 1201.4C873.7 1199.5 874.3 1197.5 874.9 1195.6C875.5 1193.6 876.1 1191.7 876.8 1189.8C877.4 1187.9 878.0 1185.9 878.6 1184.0C879.2 1182.1 879.9 1180.2 880.5 1178.2C881.1 1176.3 881.7 1174.4 882.3 1172.5C882.9 1170.6 883.6 1168.6 884.2 1166.7C884.8 1164.8 885.4 1162.9 886.0 1161.0C886.6 1159.1 887.2 1157.2 887.8 1155.2C888.4 1153.3 889.1 1151.4 889.7 1149.5C890.3 1147.6 890.9 1145.7 891.5 1143.8C892.1 1141.8 892.7 1139.9 893.2 1138.0C893.8 1136.1 894.4 1134.2 895.0 1132.2C895.6 1130.3 896.2 1128.4 896.8 1126.5C897.3 1124.6 897.9 1122.6 898.5 1120.7C899.0 1118.8 899.6 1116.9 900.2 1114.9C900.8 1113.0 901.3 1111.1 901.9 1109.1C902.4 1107.2 903.0 1105.3 903.5 1103.4C904.1 1101.4 904.7 1099.5 905.2 1097.6C905.8 1095.6 906.3 1093.7 906.8 1091.8C907.4 1089.8 907.9 1087.9 908.5 1085.9C909.0 1084.0 909.5 1082.1 910.1 1080.1C910.6 1078.2 911.1 1076.2 911.7 1074.3C912.2 1072.4 912.7 1070.4 913.2 1068.5C913.8 1066.5 914.3 1064.6 914.8 1062.7C915.3 1060.7 915.8 1058.8 916.4 1056.8C916.9 1054.9 917.4 1052.9 917.9 1051.0C918.4 1049.0 918.9 1047.1 919.4 1045.1C919.9 1043.2 920.4 1041.2 920.9 1039.3C921.4 1037.3 921.9 1035.4 922.4 1033.4C922.9 1031.5 923.4 1029.5 923.9 1027.6C924.4 1025.6 924.9 1023.7 925.4 1021.7C925.9 1019.8 926.3 1017.8 926.8 1015.9C927.3 1013.9 927.8 1011.9 928.3 1010.0C928.8 1008.0 929.2 1006.1 929.7 1004.1C930.2 1002.2 930.7 1000.2 931.2 998.3C931.6 996.3 932.1 994.3 932.6 992.4C933.0 990.4 933.5 988.5 934.0 986.5C934.5 984.5 934.9 982.6 935.4 980.6C935.9 978.7 936.3 976.7 936.8 974.7C937.2 972.8 937.7 970.8 938.2 968.9C938.6 966.9 939.1 964.9 939.5 963.0C940.0 961.0 940.5 959.1 940.9 957.1C941.4 955.1 941.8 953.2 942.3 951.2C942.7 949.2 943.2 947.3 943.6 945.3C944.1 943.4 944.6 941.4 945.0 939.4C945.5 937.5 945.9 935.5 946.3 933.5C946.8 931.6 947.2 929.6 947.7 927.6C948.1 925.7 948.6 923.7 949.0 921.8C949.5 919.8 949.9 917.8 950.4 915.9C950.8 913.9 951.3 911.9 951.7 910.0C952.1 908.0 952.6 906.1 953.0 904.1C953.5 902.1 953.9 900.2 954.4 898.2C954.8 896.2 955.2 894.3 955.7 892.3C956.1 890.3 956.6 888.4 957.0 886.4C957.4 884.5 957.9 882.5 958.3 880.5C958.7 878.6 959.2 876.6 959.6 874.6C960.0 872.7 960.5 870.7 960.9 868.8C961.3 866.8 961.8 864.8 962.2 862.9C962.6 860.9 963.1 858.9 963.5 857.0C963.9 855.0 964.3 853.0 964.8 851.1C965.2 849.1 965.6 847.1 966.0 845.2C966.5 843.2 966.9 841.2 967.3 839.3C967.7 837.3 968.1 835.3 968.5 833.4C969.0 831.4 969.4 829.4 969.8 827.5C970.2 825.5 970.6 823.5 971.0 821.6C971.4 819.6 971.8 817.6 972.2 815.7C972.6 813.7 973.0 811.7 973.4 809.8C973.8 807.8 974.2 805.8 974.6 803.8C975.0 801.9 975.4 799.9 975.8 797.9C976.2 795.9 976.5 794.0 976.9 792.0C977.3 790.0 977.7 788.0 978.1 786.1C978.4 784.1 978.8 782.1 979.2 780.1C979.5 778.1 979.9 776.2 980.3 774.2C980.6 772.2 981.0 770.2 981.4 768.2C981.7 766.3 982.1 764.3 982.4 762.3C982.8 760.3 983.1 758.3 983.5 756.3C983.8 754.4 984.2 752.4 984.5 750.4C984.8 748.4 985.2 746.4 985.5 744.4C985.9 742.4 986.2 740.4 986.5 738.4C986.8 736.5 987.2 734.5 987.5 732.5C987.8 730.5 988.1 728.5 988.4 726.5C988.8 724.5 989.1 722.5 989.4 720.5C989.7 718.5 990.0 716.5 990.3 714.5C990.6 712.5 990.9 710.6 991.2 708.6C991.5 706.6 991.8 704.6 992.1 702.6C992.4 700.6 992.6 698.6 992.9 696.6C993.2 694.6 993.5 692.6 993.8 690.6C994.0 688.6 994.3 686.6 994.6 684.6C994.9 682.6 995.1 680.6 995.4 678.6C995.7 676.6 995.9 674.6 996.2 672.6C996.4 670.7 996.7 668.7 997.0 666.7C997.2 664.7 997.5 662.7 997.7 660.7C998.0 658.7 998.2 656.7 998.4 654.7C998.7 652.7 998.9 650.7 999.2 648.7C999.4 646.7 999.6 644.7 999.9 642.7C1000.1 640.7 1000.3 638.7 1000.6 636.8C1000.8 634.8 1001.0 632.8 1001.3 630.8C1001.5 628.8 1001.7 626.8 1002.0 624.8C1002.2 622.8 1002.4 620.8 1002.7 618.8C1002.9 616.8 1003.1 614.8 1003.4 612.8C1003.6 610.8 1003.8 608.9 1004.1 606.9C1004.3 604.9 1004.6 602.9 1004.8 600.9C1005.1 598.9 1005.3 596.9 1005.6 594.9C1005.8 592.9 1006.1 590.9 1006.3 588.9C1006.6 586.9 1006.9 585.0 1007.1 583.0C1007.4 581.0 1007.7 579.0 1008.0 577.0C1008.3 575.0 1008.5 573.0 1008.8 571.0C1009.1 569.0 1009.4 567.0 1009.7 565.0C1010.1 563.0 1010.4 561.1 1010.7 559.1C1011.0 557.1 1011.3 555.1 1011.7 553.1C1012.0 551.1 1012.4 549.1 1012.7 547.1C1013.1 545.1 1013.4 543.1 1013.8 541.1C1014.2 539.1 1014.5 537.1 1014.9 535.1C1015.3 533.1 1015.7 531.2 1016.1 529.2C1016.5 527.2 1017.0 525.2 1017.4 523.2C1017.8 521.2 1018.3 519.2 1018.7 517.2C1019.2 515.2 1019.7 513.3 1020.2 511.3C1020.6 509.4 1021.1 507.4 1021.7 505.5C1022.2 503.7 1022.7 501.8 1023.3 499.9C1023.9 498.1 1024.4 496.3 1025.1 494.5C1025.7 492.7 1026.4 490.9 1027.2 489.1C1028.0 487.2 1028.8 485.3 1029.8 483.3C1030.8 481.3 1031.9 478.8 1033.2 477.1C1034.4 475.4 1035.8 473.3 1037.3 472.9C1038.8 472.4 1040.4 473.1 1042.0 474.2C1043.5 475.3 1045.1 477.6 1046.4 479.4C1047.8 481.2 1048.9 483.1 1050.0 484.8C1051.1 486.6 1052.0 488.4 1052.8 490.1C1053.7 491.8 1054.5 493.6 1055.3 495.3C1056.1 497.1 1056.8 498.9 1057.6 500.7C1058.3 502.4 1059.1 504.2 1059.8 506.1C1060.5 507.9 1061.2 509.7 1061.9 511.6C1062.6 513.4 1063.3 515.3 1063.9 517.2C1064.6 519.0 1065.3 520.9 1065.9 522.8C1066.6 524.7 1067.2 526.6 1067.8 528.6C1068.4 530.5 1069.0 532.4 1069.6 534.3C1070.2 536.3 1070.8 538.2 1071.4 540.2C1072.0 542.1 1072.6 544.1 1073.1 546.0C1073.7 548.0 1074.3 550.0 1074.8 551.9C1075.4 553.9 1075.9 555.9 1076.5 557.8C1077.0 559.8 1077.6 561.8 1078.1 563.8C1078.6 565.7 1079.1 567.7 1079.7 569.7C1080.2 571.7 1080.7 573.6 1081.2 575.6C1081.7 577.6 1082.2 579.6 1082.8 581.5C1083.3 583.5 1083.8 585.5 1084.3 587.4C1084.8 589.4 1085.3 591.4 1085.8 593.4C1086.3 595.3 1086.8 597.3 1087.3 599.2C1087.7 601.2 1088.2 603.2 1088.7 605.1C1089.2 607.1 1089.7 609.1 1090.2 611.0C1090.7 613.0 1091.1 614.9 1091.6 616.9C1092.1 618.9 1092.6 620.8 1093.1 622.8C1093.5 624.7 1094.0 626.7 1094.5 628.6C1095.0 630.6 1095.4 632.6 1095.9 634.5C1096.4 636.5 1096.8 638.4 1097.3 640.4C1097.8 642.3 1098.2 644.3 1098.7 646.2C1099.2 648.2 1099.6 650.1 1100.1 652.1C1100.6 654.0 1101.0 656.0 1101.5 657.9C1102.0 659.9 1102.4 661.8 1102.9 663.8C1103.4 665.7 1103.8 667.7 1104.3 669.6C1104.8 671.6 1105.2 673.5 1105.7 675.5C1106.1 677.4 1106.6 679.4 1107.1 681.3C1107.5 683.3 1108.0 685.2 1108.5 687.2C1109.0 689.1 1109.4 691.1 1109.9 693.0C1110.4 694.9 1110.8 696.9 1111.3 698.8C1111.8 700.8 1112.3 702.7 1112.7 704.7C1113.2 706.6 1113.7 708.6 1114.2 710.5C1114.6 712.5 1115.1 714.4 1115.6 716.4C1116.1 718.3 1116.6 720.3 1117.1 722.2C1117.5 724.2 1118.0 726.1 1118.5 728.0C1119.0 730.0 1119.5 731.9 1120.0 733.9C1120.5 735.8 1121.0 737.8 1121.5 739.7C1121.9 741.7 1122.4 743.6 1122.9 745.6C1123.4 747.5 1123.9 749.5 1124.4 751.4C1124.9 753.4 1125.4 755.3 1125.9 757.3C1126.4 759.2 1126.9 761.2 1127.4 763.1C1127.9 765.0 1128.4 767.0 1128.9 768.9C1129.4 770.9 1129.9 772.8 1130.4 774.8C1131.0 776.7 1131.5 778.7 1132.0 780.6C1132.5 782.6 1133.0 784.5 1133.5 786.5C1134.0 788.4 1134.5 790.4 1135.0 792.3C1135.5 794.3 1136.0 796.2 1136.6 798.2C1137.1 800.1 1137.6 802.0 1138.1 804.0C1138.6 805.9 1139.1 807.9 1139.7 809.8C1140.2 811.8 1140.7 813.7 1141.2 815.7C1141.7 817.6 1142.2 819.6 1142.8 821.5C1143.3 823.5 1143.8 825.4 1144.3 827.4C1144.8 829.3 1145.4 831.3 1145.9 833.2C1146.4 835.1 1146.9 837.1 1147.4 839.0C1148.0 841.0 1148.5 842.9 1149.0 844.9C1149.5 846.8 1150.0 848.8 1150.6 850.7C1151.1 852.7 1151.6 854.6 1152.1 856.6C1152.7 858.5 1153.2 860.5 1153.7 862.4C1154.2 864.3 1154.8 866.3 1155.3 868.2C1155.8 870.2 1156.3 872.1 1156.9 874.1C1157.4 876.0 1157.9 878.0 1158.4 879.9C1159.0 881.9 1159.5 883.8 1160.0 885.7C1160.5 887.7 1161.1 889.6 1161.6 891.6C1162.1 893.5 1162.6 895.5 1163.2 897.4C1163.7 899.4 1164.2 901.3 1164.7 903.3C1165.3 905.2 1165.8 907.1 1166.3 909.1C1166.8 911.0 1167.4 913.0 1167.9 914.9C1168.4 916.9 1168.9 918.8 1169.5 920.8C1170.0 922.7 1170.5 924.7 1171.0 926.6C1171.6 928.5 1172.1 930.5 1172.6 932.4C1173.1 934.4 1173.7 936.3 1174.2 938.3C1174.7 940.2 1175.2 942.2 1175.7 944.1C1176.3 946.0 1176.8 948.0 1177.3 949.9C1177.8 951.9 1178.3 953.8 1178.9 955.8C1179.4 957.7 1179.9 959.6 1180.4 961.6C1180.9 963.5 1181.5 965.5 1182.0 967.4C1182.5 969.4 1183.0 971.3 1183.5 973.2C1184.1 975.2 1184.6 977.1 1185.1 979.1C1185.6 981.0 1186.1 983.0 1186.7 984.9C1187.2 986.8 1187.7 988.8 1188.2 990.7C1188.7 992.7 1189.2 994.6 1189.8 996.6C1190.3 998.5 1190.8 1000.4 1191.3 1002.4C1191.8 1004.3 1192.3 1006.3 1192.9 1008.2C1193.4 1010.1 1193.9 1012.1 1194.4 1014.0C1194.9 1016.0 1195.4 1017.9 1196.0 1019.9C1196.5 1021.8 1197.0 1023.7 1197.5 1025.7C1198.0 1027.6 1198.6 1029.6 1199.1 1031.5C1199.6 1033.5 1200.1 1035.4 1200.6 1037.3C1201.1 1039.3 1201.7 1041.2 1202.2 1043.2C1202.7 1045.1 1203.2 1047.0 1203.7 1049.0C1204.3 1050.9 1204.8 1052.9 1205.3 1054.8C1205.8 1056.8 1206.3 1058.7 1206.8 1060.6C1207.4 1062.6 1207.9 1064.5 1208.4 1066.5C1208.9 1068.4 1209.4 1070.4 1210.0 1072.3C1210.5 1074.2 1211.0 1076.2 1211.5 1078.1C1212.1 1080.1 1212.6 1082.0 1213.1 1084.0C1213.6 1085.9 1214.1 1087.8 1214.7 1089.8C1215.2 1091.7 1215.7 1093.7 1216.2 1095.6C1216.8 1097.6 1217.3 1099.5 1217.8 1101.4C1218.3 1103.4 1218.9 1105.3 1219.4 1107.3C1219.9 1109.2 1220.4 1111.2 1221.0 1113.1C1221.5 1115.0 1222.0 1117.0 1222.6 1118.9C1223.1 1120.9 1223.6 1122.8 1224.1 1124.8C1224.7 1126.7 1225.2 1128.7 1225.7 1130.6C1226.3 1132.5 1226.8 1134.5 1227.3 1136.4C1227.9 1138.4 1228.4 1140.3 1228.9 1142.3C1229.5 1144.2 1230.0 1146.2 1230.5 1148.1C1231.1 1150.0 1231.6 1152.0 1232.1 1153.9C1232.7 1155.9 1233.2 1157.8 1233.7 1159.8C1234.3 1161.7 1234.8 1163.7 1235.4 1165.6C1235.9 1167.6 1236.5 1169.5 1237.0 1171.4C1237.6 1173.4 1238.1 1175.3 1238.7 1177.3C1239.2 1179.2 1239.8 1181.1 1240.3 1183.1C1240.9 1185.0 1241.5 1187.0 1242.0 1188.9C1242.6 1190.8 1243.2 1192.7 1243.8 1194.7C1244.4 1196.6 1244.9 1198.5 1245.5 1200.4C1246.1 1202.4 1246.7 1204.3 1247.4 1206.2C1248.0 1208.1 1248.6 1210.0 1249.2 1211.9C1249.8 1213.8 1250.5 1215.7 1251.1 1217.6C1251.8 1219.5 1252.4 1221.4 1253.1 1223.3C1253.8 1225.2 1254.5 1227.0 1255.1 1228.9C1255.8 1230.8 1256.5 1232.6 1257.3 1234.5C1258.0 1236.4 1258.7 1238.2 1259.4 1240.1C1260.2 1241.9 1260.9 1243.7 1261.7 1245.6C1262.5 1247.4 1263.2 1249.2 1264.0 1251.1C1264.8 1252.9 1265.6 1254.7 1266.5 1256.5C1267.3 1258.4 1268.1 1260.2 1269.0 1262.0C1269.8 1263.8 1270.7 1265.6 1271.6 1267.4C1272.5 1269.3 1273.4 1271.1 1274.3 1272.9C1275.3 1274.7 1276.2 1276.5 1277.2 1278.3C1278.1 1280.1 1279.1 1281.9 1280.1 1283.7C1281.1 1285.5 1282.1 1287.4 1283.2 1289.2C1284.2 1290.9 1285.3 1292.8 1286.4 1294.5C1287.5 1296.3 1288.7 1298.0 1289.8 1299.7C1291.0 1301.4 1292.2 1303.1 1293.5 1304.6C1294.7 1306.2 1296.0 1307.8 1297.4 1309.2C1298.7 1310.7 1300.1 1312.1 1301.6 1313.3C1303.0 1314.6 1304.5 1315.8 1306.1 1316.9C1307.7 1318.0 1309.3 1319.0 1311.0 1319.8C1312.7 1320.7 1314.4 1321.4 1316.3 1322.0C1318.1 1322.6 1320.0 1323.0 1322.0 1323.3C1324.0 1323.6 1326.1 1323.7 1328.3 1323.7C1330.4 1323.6 1326.4 1323.4 1335.0 1323.0C1343.6 1322.6 1369.6 1322.2 1380.0 1321.5C1390.4 1320.8 1391.9 1320.3 1397.2 1318.6C1402.5 1316.8 1406.8 1313.0 1412.0 1311.0C1417.2 1309.0 1421.9 1307.3 1428.3 1306.7C1434.7 1306.1 1442.3 1306.5 1450.3 1307.6C1458.2 1308.6 1467.7 1311.3 1476.0 1313.0C1484.3 1314.7 1489.3 1316.3 1500.0 1317.5C1510.7 1318.7 1523.3 1319.5 1540.0 1320.0C1556.7 1320.5 1573.3 1320.3 1600.0 1320.5C1626.7 1320.7 1666.7 1321.0 1700.0 1321.0C1733.3 1321.0 1774.0 1320.4 1800.0 1320.5C1826.0 1320.6 1846.7 1321.3 1856.0 1321.5"/>
<path stroke="#f00" stroke-dasharray="54.5 22.4 6.8 22.6 6.8 23.9" stroke-dashoffset="1" d="M415.0 1321.0C439.2 1321.0 512.5 1320.9 560.0 1321.0C607.5 1321.1 669.8 1321.3 700.0 1321.5C730.2 1321.7 733.2 1322.3 741.0 1322.3C748.8 1322.3 744.8 1321.9 746.7 1321.7C748.7 1321.6 750.6 1321.5 752.6 1321.5C754.6 1321.4 756.7 1321.4 758.7 1321.4C760.7 1321.4 762.8 1321.5 764.8 1321.5C766.9 1321.5 769.0 1321.6 771.0 1321.6C773.1 1321.7 775.2 1321.7 777.3 1321.7C779.4 1321.8 781.5 1321.8 783.5 1321.7C785.6 1321.7 787.7 1321.7 789.7 1321.6C791.8 1321.5 793.8 1321.3 795.8 1321.1C797.8 1320.9 799.8 1320.7 801.8 1320.4C803.7 1320.0 805.7 1319.7 807.6 1319.2C809.5 1318.7 811.4 1318.2 813.2 1317.5C815.1 1316.9 816.9 1316.1 818.6 1315.3C820.4 1314.4 822.1 1313.5 823.7 1312.4C825.4 1311.3 827.0 1310.1 828.5 1308.8C830.1 1307.6 831.6 1306.2 833.1 1304.8C834.6 1303.4 836.1 1301.9 837.5 1300.4C839.0 1298.9 840.4 1297.4 841.8 1295.9C843.2 1294.4 844.6 1292.9 845.9 1291.4C847.3 1289.9 848.6 1288.4 849.9 1286.9C851.1 1285.3 852.4 1283.8 853.5 1282.2C854.6 1280.6 855.7 1278.9 856.7 1277.2C857.6 1275.5 858.5 1273.8 859.4 1272.0C860.2 1270.2 860.9 1268.4 861.6 1266.5C862.3 1264.6 862.9 1262.7 863.5 1260.8C864.1 1258.9 864.7 1256.9 865.2 1255.0C865.8 1253.0 866.3 1251.0 866.8 1249.1C867.3 1247.1 867.8 1245.1 868.3 1243.1C868.8 1241.2 869.3 1239.2 869.9 1237.2C870.4 1235.3 870.9 1233.3 871.4 1231.3C872.0 1229.4 872.5 1227.4 873.0 1225.5C873.6 1223.5 874.1 1221.6 874.7 1219.6C875.2 1217.7 875.8 1215.7 876.3 1213.8C876.9 1211.9 877.4 1209.9 878.0 1208.0C878.6 1206.0 879.1 1204.1 879.7 1202.2C880.3 1200.2 880.8 1198.3 881.4 1196.4C882.0 1194.4 882.5 1192.5 883.1 1190.6C883.7 1188.6 884.2 1186.7 884.8 1184.8C885.4 1182.9 885.9 1180.9 886.5 1179.0C887.1 1177.1 887.6 1175.2 888.2 1173.2C888.8 1171.3 889.3 1169.4 889.9 1167.4C890.4 1165.5 891.0 1163.6 891.6 1161.7C892.1 1159.7 892.7 1157.8 893.2 1155.9C893.8 1153.9 894.3 1152.0 894.8 1150.1C895.4 1148.1 895.9 1146.2 896.5 1144.3C897.0 1142.3 897.5 1140.4 898.1 1138.4C898.6 1136.5 899.1 1134.6 899.6 1132.6C900.1 1130.7 900.6 1128.7 901.2 1126.8C901.7 1124.8 902.2 1122.9 902.7 1120.9C903.2 1119.0 903.7 1117.0 904.2 1115.1C904.7 1113.1 905.2 1111.2 905.7 1109.2C906.1 1107.2 906.6 1105.3 907.1 1103.3C907.6 1101.4 908.1 1099.4 908.6 1097.5C909.1 1095.5 909.6 1093.5 910.1 1091.6C910.5 1089.6 911.0 1087.7 911.5 1085.7C912.0 1083.8 912.5 1081.8 913.0 1079.8C913.5 1077.9 914.0 1075.9 914.4 1074.0C914.9 1072.0 915.4 1070.1 915.9 1068.1C916.4 1066.1 916.9 1064.2 917.4 1062.2C917.9 1060.3 918.4 1058.3 918.9 1056.4C919.4 1054.4 919.9 1052.5 920.4 1050.5C920.9 1048.6 921.4 1046.6 922.0 1044.7C922.5 1042.7 923.0 1040.8 923.5 1038.9C924.0 1036.9 924.6 1035.0 925.1 1033.0C925.6 1031.1 926.1 1029.1 926.7 1027.2C927.2 1025.3 927.7 1023.3 928.2 1021.4C928.8 1019.4 929.3 1017.5 929.9 1015.6C930.4 1013.6 930.9 1011.7 931.5 1009.7C932.0 1007.8 932.6 1005.9 933.1 1003.9C933.6 1002.0 934.2 1000.1 934.7 998.1C935.3 996.2 935.8 994.2 936.4 992.3C936.9 990.4 937.5 988.4 938.1 986.5C938.6 984.6 939.2 982.6 939.7 980.7C940.3 978.8 940.8 976.8 941.4 974.9C942.0 973.0 942.5 971.0 943.1 969.1C943.6 967.2 944.2 965.2 944.8 963.3C945.3 961.4 945.9 959.4 946.4 957.5C947.0 955.5 947.6 953.6 948.1 951.7C948.7 949.7 949.3 947.8 949.8 945.9C950.4 943.9 951.0 942.0 951.5 940.1C952.1 938.1 952.7 936.2 953.2 934.2C953.8 932.3 954.4 930.4 954.9 928.4C955.5 926.5 956.1 924.5 956.6 922.6C957.2 920.7 957.8 918.7 958.3 916.8C958.9 914.9 959.4 912.9 960.0 911.0C960.6 909.0 961.1 907.1 961.7 905.2C962.2 903.2 962.8 901.3 963.4 899.3C963.9 897.4 964.5 895.5 965.0 893.5C965.6 891.6 966.1 889.6 966.7 887.7C967.2 885.7 967.8 883.8 968.3 881.9C968.9 879.9 969.4 878.0 969.9 876.0C970.5 874.1 971.0 872.2 971.5 870.2C972.1 868.3 972.6 866.3 973.1 864.4C973.7 862.4 974.2 860.5 974.7 858.6C975.2 856.6 975.7 854.7 976.3 852.7C976.8 850.8 977.3 848.8 977.8 846.9C978.3 845.0 978.8 843.0 979.3 841.1C979.8 839.1 980.3 837.2 980.8 835.2C981.3 833.3 981.8 831.3 982.3 829.4C982.7 827.5 983.2 825.5 983.7 823.6C984.2 821.6 984.7 819.7 985.1 817.7C985.6 815.8 986.1 813.8 986.5 811.9C987.0 809.9 987.5 808.0 987.9 806.0C988.4 804.0 988.8 802.1 989.3 800.1C989.7 798.2 990.2 796.2 990.6 794.3C991.0 792.3 991.5 790.3 991.9 788.4C992.3 786.4 992.8 784.4 993.2 782.5C993.6 780.5 994.0 778.5 994.5 776.5C994.9 774.6 995.3 772.6 995.7 770.6C996.1 768.6 996.5 766.7 996.9 764.7C997.3 762.7 997.7 760.7 998.1 758.7C998.5 756.7 998.9 754.7 999.3 752.7C999.7 750.7 1000.0 748.7 1000.4 746.7C1000.8 744.7 1001.2 742.7 1001.5 740.7C1001.9 738.7 1002.3 736.7 1002.6 734.7C1003.0 732.7 1003.4 730.7 1003.8 728.7C1004.2 726.7 1004.6 724.8 1005.1 722.8C1005.6 720.9 1006.0 719.0 1006.6 717.1C1007.1 715.2 1007.6 713.4 1008.2 711.6C1008.8 709.7 1009.4 708.0 1010.1 706.1C1010.7 704.3 1011.3 702.5 1012.0 700.6C1012.6 698.7 1013.2 696.8 1013.8 694.7C1014.4 692.7 1015.0 690.6 1015.6 688.4C1016.1 686.2 1016.6 683.8 1017.2 681.6C1017.8 679.3 1018.3 677.0 1019.2 675.0C1020.0 673.1 1020.9 671.2 1022.2 670.0C1023.5 668.8 1025.3 667.9 1027.1 667.7C1028.9 667.5 1031.1 668.0 1032.9 668.9C1034.6 669.8 1036.0 671.5 1037.4 673.0C1038.8 674.5 1040.0 676.2 1041.1 677.9C1042.3 679.6 1043.3 681.3 1044.3 683.1C1045.3 684.8 1046.2 686.6 1047.1 688.4C1047.9 690.3 1048.7 692.1 1049.4 694.0C1050.2 695.8 1050.9 697.7 1051.5 699.6C1052.2 701.5 1052.8 703.5 1053.4 705.4C1054.0 707.3 1054.6 709.2 1055.2 711.2C1055.8 713.1 1056.3 715.0 1056.9 717.0C1057.5 718.9 1058.0 720.9 1058.6 722.8C1059.2 724.7 1059.7 726.7 1060.3 728.6C1060.8 730.6 1061.3 732.5 1061.9 734.4C1062.4 736.4 1063.0 738.3 1063.5 740.3C1064.0 742.2 1064.5 744.2 1065.1 746.1C1065.6 748.1 1066.1 750.0 1066.6 752.0C1067.1 753.9 1067.6 755.9 1068.1 757.8C1068.7 759.8 1069.2 761.7 1069.7 763.7C1070.1 765.6 1070.6 767.6 1071.1 769.5C1071.6 771.5 1072.1 773.5 1072.6 775.4C1073.1 777.4 1073.6 779.3 1074.0 781.3C1074.5 783.2 1075.0 785.2 1075.5 787.2C1075.9 789.1 1076.4 791.1 1076.9 793.0C1077.3 795.0 1077.8 797.0 1078.2 798.9C1078.7 800.9 1079.2 802.8 1079.6 804.8C1080.1 806.8 1080.5 808.7 1081.0 810.7C1081.4 812.7 1081.9 814.6 1082.3 816.6C1082.7 818.6 1083.2 820.5 1083.6 822.5C1084.1 824.4 1084.5 826.4 1084.9 828.4C1085.4 830.3 1085.8 832.3 1086.2 834.3C1086.7 836.2 1087.1 838.2 1087.5 840.2C1088.0 842.1 1088.4 844.1 1088.8 846.1C1089.2 848.1 1089.7 850.0 1090.1 852.0C1090.5 854.0 1090.9 855.9 1091.4 857.9C1091.8 859.9 1092.2 861.8 1092.6 863.8C1093.0 865.8 1093.5 867.7 1093.9 869.7C1094.3 871.7 1094.7 873.6 1095.1 875.6C1095.5 877.6 1096.0 879.6 1096.4 881.5C1096.8 883.5 1097.2 885.5 1097.6 887.4C1098.0 889.4 1098.5 891.4 1098.9 893.3C1099.3 895.3 1099.7 897.3 1100.1 899.3C1100.5 901.2 1101.0 903.2 1101.4 905.2C1101.8 907.1 1102.2 909.1 1102.6 911.1C1103.0 913.0 1103.5 915.0 1103.9 917.0C1104.3 919.0 1104.7 920.9 1105.2 922.9C1105.6 924.9 1106.0 926.8 1106.4 928.8C1106.8 930.8 1107.3 932.7 1107.7 934.7C1108.1 936.7 1108.6 938.6 1109.0 940.6C1109.4 942.6 1109.8 944.6 1110.3 946.5C1110.7 948.5 1111.1 950.5 1111.6 952.4C1112.0 954.4 1112.5 956.4 1112.9 958.3C1113.3 960.3 1113.8 962.3 1114.2 964.2C1114.7 966.2 1115.1 968.2 1115.6 970.1C1116.0 972.1 1116.5 974.0 1116.9 976.0C1117.4 978.0 1117.8 979.9 1118.3 981.9C1118.7 983.9 1119.2 985.8 1119.7 987.8C1120.1 989.8 1120.6 991.7 1121.1 993.7C1121.6 995.6 1122.0 997.6 1122.5 999.6C1123.0 1001.5 1123.5 1003.5 1124.0 1005.4C1124.4 1007.4 1124.9 1009.3 1125.4 1011.3C1125.9 1013.3 1126.4 1015.2 1126.9 1017.2C1127.4 1019.1 1127.9 1021.1 1128.4 1023.0C1128.9 1025.0 1129.4 1026.9 1130.0 1028.9C1130.5 1030.9 1131.0 1032.8 1131.5 1034.8C1132.0 1036.7 1132.6 1038.7 1133.1 1040.6C1133.6 1042.5 1134.2 1044.5 1134.7 1046.4C1135.3 1048.4 1135.8 1050.3 1136.4 1052.3C1136.9 1054.2 1137.5 1056.1 1138.0 1058.1C1138.6 1060.0 1139.2 1062.0 1139.7 1063.9C1140.3 1065.8 1140.9 1067.8 1141.5 1069.7C1142.1 1071.6 1142.6 1073.6 1143.2 1075.5C1143.8 1077.4 1144.4 1079.3 1145.1 1081.3C1145.7 1083.2 1146.3 1085.1 1146.9 1087.0C1147.5 1088.9 1148.1 1090.8 1148.8 1092.8C1149.4 1094.7 1150.0 1096.6 1150.7 1098.5C1151.3 1100.4 1152.0 1102.3 1152.6 1104.2C1153.3 1106.1 1154.0 1108.0 1154.6 1109.9C1155.3 1111.8 1156.0 1113.7 1156.7 1115.6C1157.4 1117.5 1158.0 1119.4 1158.7 1121.3C1159.4 1123.2 1160.2 1125.0 1160.9 1126.9C1161.6 1128.8 1162.3 1130.7 1163.0 1132.5C1163.8 1134.4 1164.5 1136.3 1165.2 1138.2C1166.0 1140.0 1166.7 1141.9 1167.5 1143.8C1168.3 1145.6 1169.0 1147.5 1169.8 1149.3C1170.6 1151.2 1171.4 1153.0 1172.2 1154.9C1173.0 1156.7 1173.8 1158.6 1174.6 1160.4C1175.4 1162.2 1176.2 1164.1 1177.0 1165.9C1177.9 1167.7 1178.7 1169.6 1179.5 1171.4C1180.4 1173.2 1181.2 1175.0 1182.1 1176.8C1183.0 1178.6 1183.8 1180.4 1184.7 1182.3C1185.6 1184.1 1186.5 1185.9 1187.4 1187.7C1188.3 1189.5 1189.2 1191.2 1190.1 1193.0C1191.0 1194.8 1192.0 1196.6 1192.9 1198.4C1193.8 1200.2 1194.8 1201.9 1195.8 1203.7C1196.7 1205.5 1197.7 1207.2 1198.7 1209.0C1199.6 1210.7 1200.6 1212.5 1201.6 1214.2C1202.6 1216.0 1203.6 1217.7 1204.7 1219.5C1205.7 1221.2 1206.7 1222.9 1207.8 1224.7C1208.8 1226.4 1209.9 1228.1 1210.9 1229.8C1212.0 1231.6 1213.1 1233.3 1214.1 1235.0C1215.2 1236.7 1216.3 1238.4 1217.4 1240.1C1218.5 1241.8 1219.7 1243.4 1220.8 1245.1C1221.9 1246.8 1223.1 1248.5 1224.2 1250.1C1225.4 1251.8 1226.6 1253.4 1227.8 1255.1C1228.9 1256.7 1230.1 1258.4 1231.4 1260.0C1232.6 1261.6 1233.8 1263.2 1235.1 1264.8C1236.3 1266.4 1237.6 1268.0 1238.8 1269.5C1240.1 1271.1 1241.4 1272.7 1242.7 1274.2C1244.0 1275.8 1245.4 1277.3 1246.7 1278.8C1248.1 1280.3 1249.4 1281.8 1250.8 1283.3C1252.2 1284.7 1253.6 1286.2 1255.0 1287.6C1256.4 1289.1 1257.8 1290.5 1259.3 1291.9C1260.8 1293.3 1262.2 1294.7 1263.7 1296.1C1265.2 1297.4 1266.7 1298.8 1268.3 1300.1C1269.8 1301.4 1271.4 1302.7 1273.0 1304.0C1274.5 1305.2 1276.1 1306.5 1277.8 1307.7C1279.4 1308.9 1281.0 1310.1 1282.7 1311.2C1284.4 1312.3 1286.1 1313.4 1287.8 1314.4C1289.5 1315.5 1291.2 1316.4 1293.0 1317.4C1294.8 1318.3 1296.5 1319.2 1298.3 1320.0C1300.2 1320.8 1302.0 1321.5 1303.8 1322.2C1305.7 1322.8 1307.6 1323.4 1309.5 1324.0C1311.4 1324.5 1313.3 1324.9 1315.3 1325.3C1317.2 1325.6 1319.2 1325.9 1321.2 1326.1C1323.2 1326.2 1325.3 1326.3 1327.3 1326.3C1329.4 1326.3 1331.5 1326.2 1333.6 1326.0C1335.7 1325.8 1328.9 1325.3 1340.0 1325.0C1351.1 1324.7 1356.7 1324.2 1400.0 1324.0C1443.3 1323.8 1486.6 1324.0 1600.0 1324.0C1713.4 1324.0 2000.4 1324.0 2080.5 1324.0"/>
</g>
<g id="ticklabels">
<text transform="translate(280.5 1347.7) scale(0.945 1)" font-size="83" text-anchor="end">0.0</text>
<text transform="translate(280.5 1036.0) scale(0.945 1)" font-size="83" text-anchor="end">1.0</text>
<text transform="translate(280.5 722.2) scale(0.945 1)" font-size="83" text-anchor="end">2.0</text>
<text transform="translate(280.5 408.5) scale(0.945 1)" font-size="83" text-anchor="end">3.0</text>
<text transform="translate(280.5 94.7) scale(0.945 1)" font-size="83" text-anchor="end">4.0</text>
<text transform="translate(348.2 1441.0) scale(0.945 1)" font-size="83" text-anchor="middle">0.75</text>
<text transform="translate(692.8 1441.0) scale(0.945 1)" font-size="83" text-anchor="middle">1</text>
<text transform="translate(1041.8 1441.0) scale(0.945 1)" font-size="83" text-anchor="middle">1.25</text>
<text transform="translate(1386.8 1441.0) scale(0.945 1)" font-size="83" text-anchor="middle">1.5</text>
<text transform="translate(1734.6 1441.0) scale(0.945 1)" font-size="83" text-anchor="middle">1.75</text>
<text transform="translate(2078.6 1441.0) scale(0.945 1)" font-size="83" text-anchor="middle">2</text>
</g>
<text transform="translate(1038.2 1542.2) scale(0.972 1)" font-size="83" text-anchor="middle" id="xtitle">T (s)</text>
<text id="ytitle" transform="translate(142.5 685.2) rotate(-90) scale(0.960 1)" font-size="83" text-anchor="middle">η (%)</text>
<g id="legend">
<rect x="1376.3" y="150.8" width="649" height="386" fill="#fff" stroke="#1e1e1e" stroke-width="4.8"/>
<line x1="1439" x2="1637.5" y1="192.6" y2="192.6" stroke="#000" stroke-width="7.0"/>
<text transform="translate(1653.8 214.6) scale(0.945 1)" font-size="83" text-anchor="start">or=8m<tspan dx="4">m</tspan></text>
<line x1="1439" x2="1637.5" y1="268.6" y2="268.6" stroke="#f00" stroke-width="7.0"/>
<text transform="translate(1653.8 290.3) scale(0.945 1)" font-size="83" text-anchor="start">or=12mm</text>
<line x1="1439" x2="1637.5" y1="344.2" y2="344.2" stroke="#0f0" stroke-width="7.0"/>
<text transform="translate(1653.8 366.0) scale(0.945 1)" font-size="83" text-anchor="start">or=14mm</text>
<line x1="1439.5" x2="1633.5" y1="419.6" y2="419.6" stroke="#000" stroke-width="7.0" stroke-dasharray="54.5 22.4 6.8 22.6 6.8 23.9"/>
<text transform="translate(1653.8 445.2) scale(0.945 1)" font-size="83" text-anchor="start">or=16mm</text>
<line x1="1439.5" x2="1633.5" y1="499.2" y2="499.2" stroke="#f00" stroke-width="7.0" stroke-dasharray="54.5 22.4 6.8 22.6 6.8 23.9"/>
<text transform="translate(1653.8 520.8) scale(0.945 1)" font-size="83" text-anchor="start">or=22mm</text>
</g>
</svg></body></html>
